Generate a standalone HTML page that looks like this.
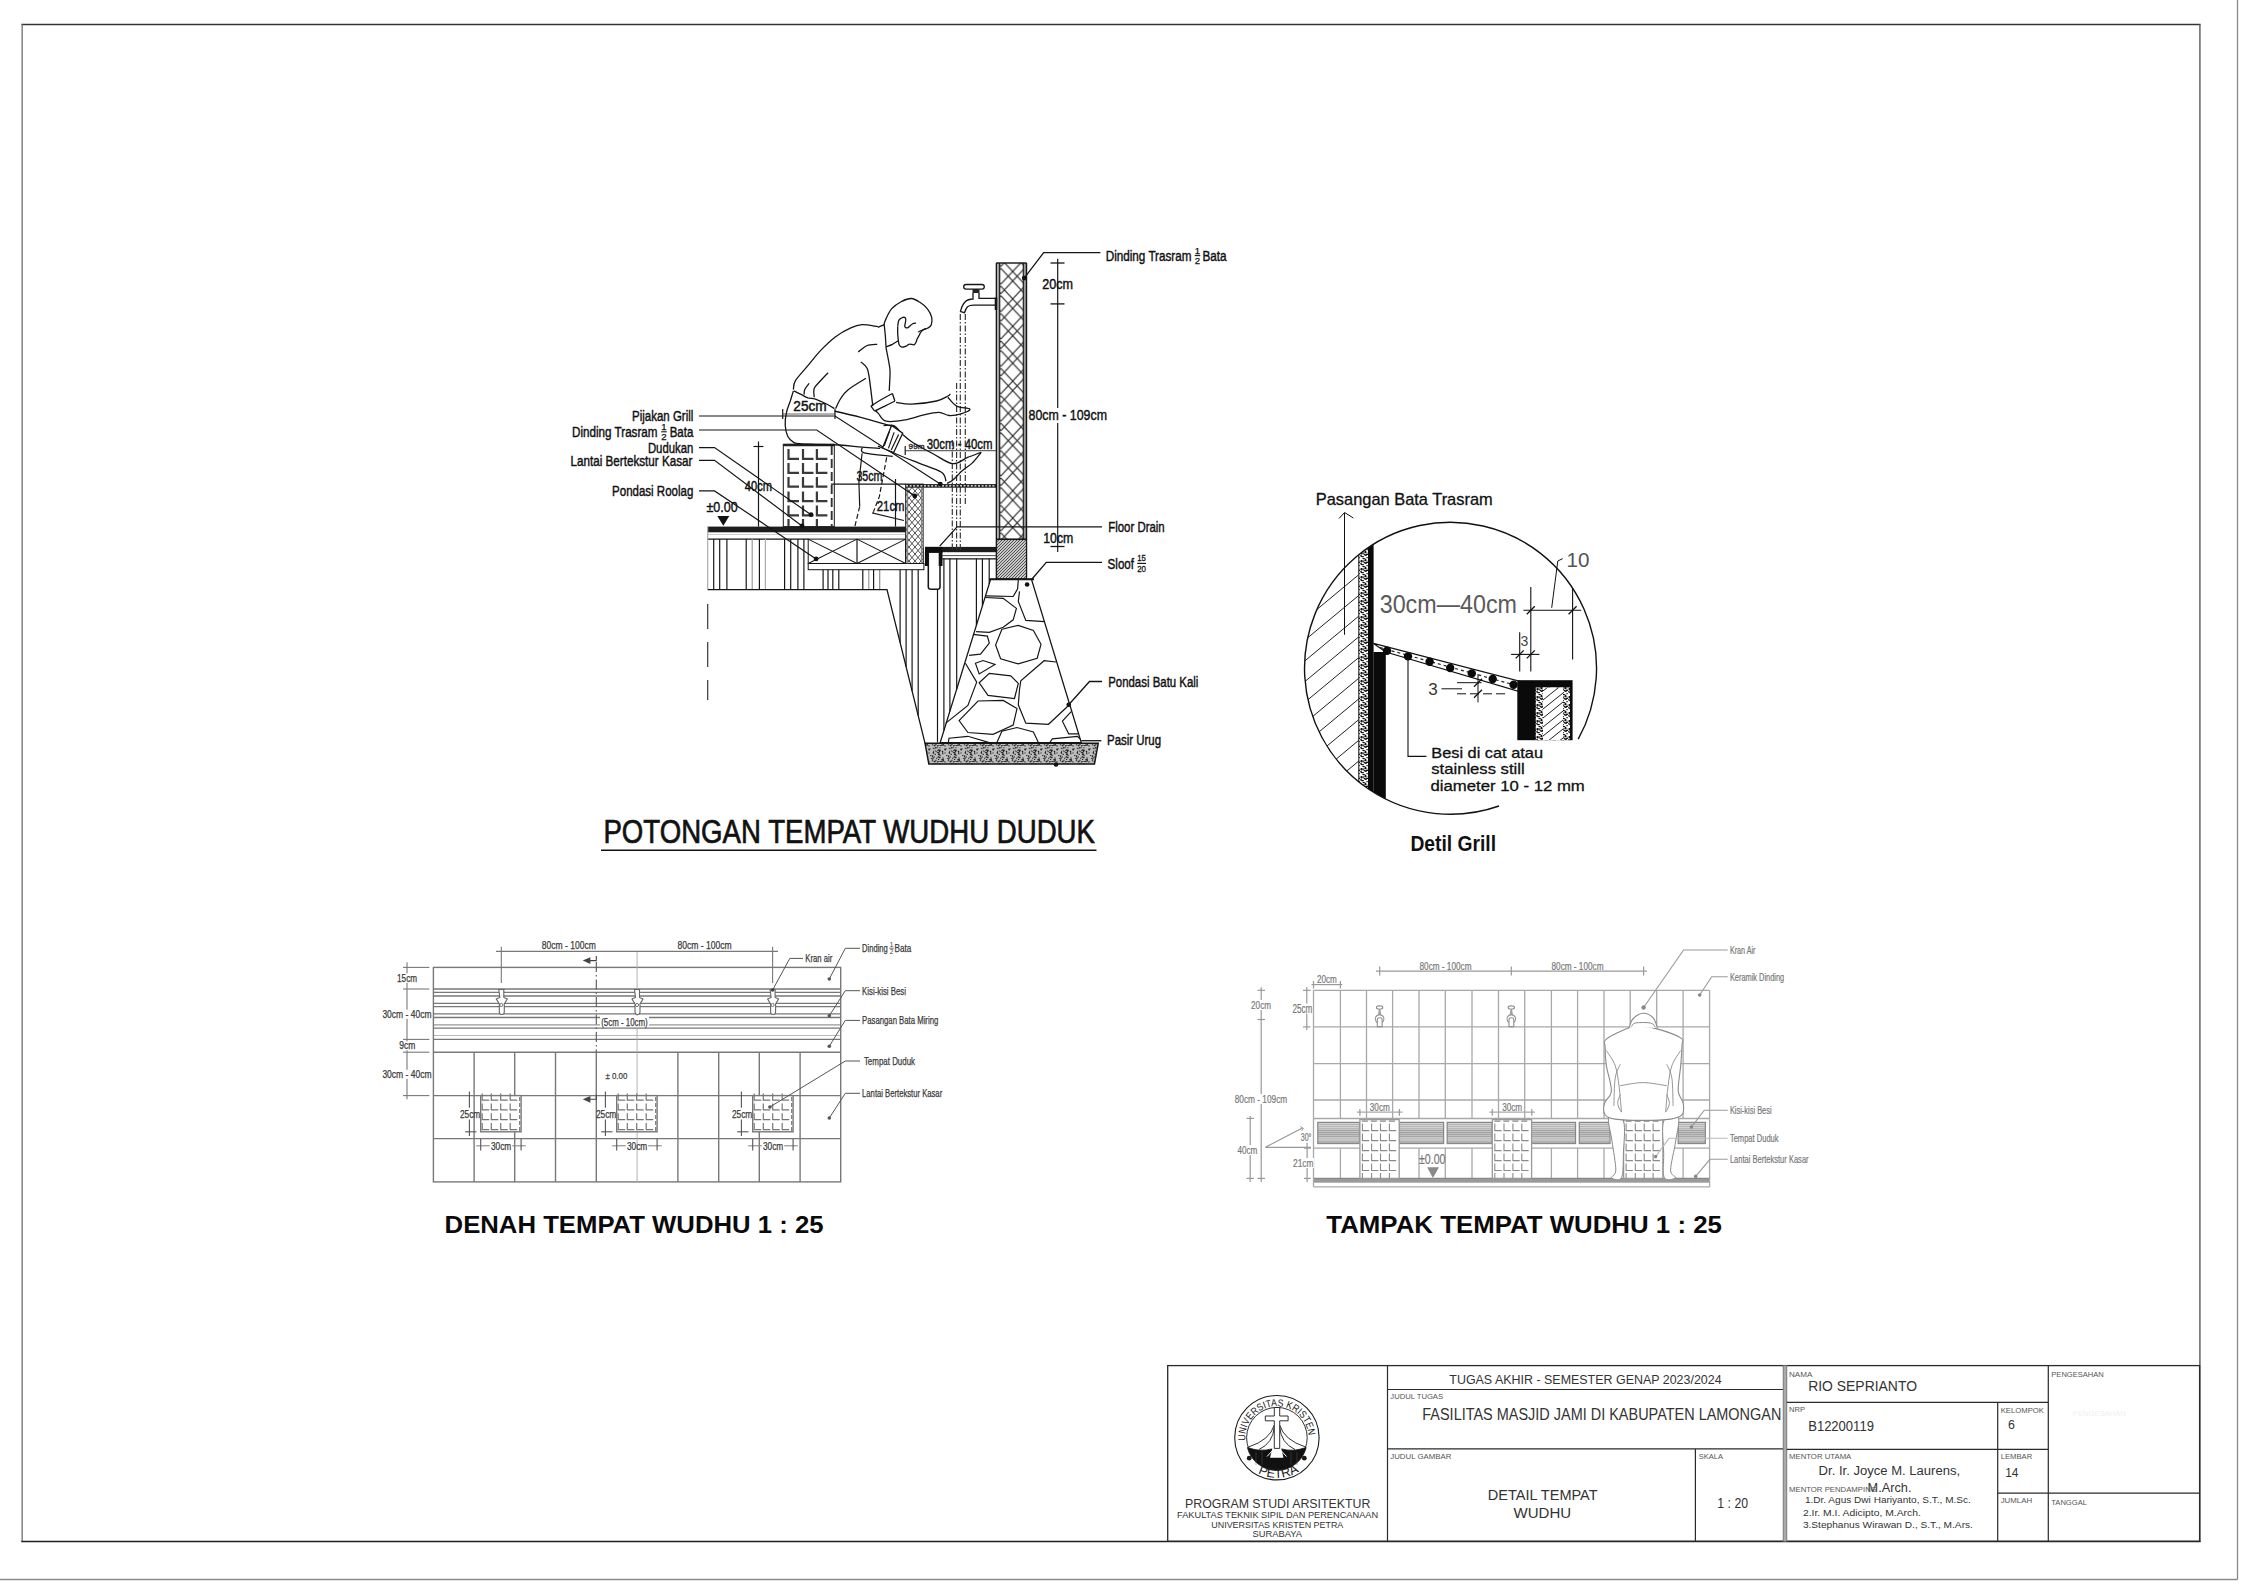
<!DOCTYPE html>
<html><head><meta charset="utf-8"><title>Detail Tempat Wudhu</title>
<style>
html,body{margin:0;padding:0;background:#fff;}
body{width:2245px;height:1587px;overflow:hidden;}
svg{display:block;font-family:"Liberation Sans",sans-serif;}
</style></head><body>
<svg width="2245" height="1587" viewBox="0 0 2245 1587">
<rect width="2245" height="1587" fill="#fff"/>
<defs>
<pattern id="xh" patternUnits="userSpaceOnUse" x="1000.7" y="244.1" width="24" height="27.4"><path d="M0,-40.24L24,-14.56M24,-40.24L0,-14.56M0,-12.84L24,12.84M24,-12.84L0,12.84M0,-3.34L24,22.34M24,-3.34L0,22.34M0,14.56L24,40.24M24,14.56L0,40.24M0,24.06L24,49.74M24,24.06L0,49.74" stroke="#2a2a2a" stroke-width="1.15" fill="none"/></pattern>
<pattern id="xh2" patternUnits="userSpaceOnUse" x="909" y="484" width="12" height="14"><path d="M0,0L12,14M0,-7L12,7M0,7L12,21M12,0L0,14M12,-7L0,7M12,7L0,21" stroke="#222" stroke-width="0.8" fill="none"/></pattern>
<pattern id="dh" patternUnits="userSpaceOnUse" width="3" height="3"><rect width="3" height="3" fill="#c8c8c8"/><path d="M-1,4L4,-1M-1,1L1,-1M2,4L4,2" stroke="#333" stroke-width="0.8"/></pattern>
<pattern id="st" patternUnits="userSpaceOnUse" width="16" height="16"><rect width="16" height="16" fill="#bdbdbd"/><path d="M3.8,8.7h1.2M5.9,9.7h1.2M10.0,1.0h1.2M0.2,13.4h1.2M4.1,3.7h1.2M15.9,7.5h1.2M13.4,7.6h1.2M10.2,2.4h1.2M10.2,13.9h1.2M8.4,11.9h1.2M10.7,1.0h1.2M12.1,9.5h1.2M4.8,0.5h1.2M13.8,7.6h1.2M11.5,14.1h1.2M11.4,14.7h1.2M6.3,12.8h1.2M7.1,15.0h1.2M14.1,1.6h1.2M2.2,3.5h1.2M15.4,7.0h1.2M10.0,4.8h1.2M8.1,6.2h1.2M5.6,9.4h1.2M9.3,14.5h1.2M10.9,14.9h1.2M13.7,15.9h1.2M10.7,2.6h1.2M13.8,15.4h1.2M14.5,9.1h1.2M11.4,3.4h1.2M13.3,9.2h1.2M4.6,1.0h1.2M13.7,15.8h1.2M1.4,12.8h1.2M6.6,2.4h1.2M4.7,12.3h1.2M14.0,0.7h1.2M9.8,0.7h1.2M11.5,5.3h1.2M14.1,15.7h1.2M8.1,16.0h1.2M5.0,1.2h1.2M9.6,0.5h1.2M3.2,6.5h1.2M9.8,2.5h1.2M0.7,13.9h1.2M5.0,15.3h1.2M14.3,6.0h1.2M7.4,8.3h1.2M10.3,9.5h1.2M8.9,9.9h1.2M15.0,8.1h1.2M6.9,11.5h1.2M3.8,4.8h1.2M15.6,8.3h1.2M8.8,0.2h1.2M6.6,9.3h1.2M0.3,9.9h1.2M10.1,1.0h1.2M10.0,7.5h1.2M10.9,5.6h1.2M11.3,11.8h1.2M0.4,1.0h1.2M10.8,15.4h1.2M4.0,7.3h1.2M9.5,5.1h1.2M5.8,5.0h1.2M5.9,9.5h1.2M4.8,6.0h1.2" stroke="#222" stroke-width="1.1"/></pattern>
<pattern id="gh" patternUnits="userSpaceOnUse" width="20" height="20" patternTransform="rotate(-40)"><path d="M0,10H20" stroke="#222" stroke-width="1"/></pattern>
<pattern id="gs" patternUnits="userSpaceOnUse" width="8" height="8"><rect width="8" height="8" fill="#fff"/><path d="M2.6,1.2h1.3M5.2,0.6h1.3M4.3,2.9h1.3M0.5,4.1h1.3M0.3,3.5h1.3M0.6,0.7h1.3M3.4,6.6h1.3M1.0,1.8h1.3M5.0,7.6h1.3M4.6,3.2h1.3M7.8,0.4h1.3M6.9,2.3h1.3M1.2,0.9h1.3M2.5,6.5h1.3M1.4,4.7h1.3M5.1,3.0h1.3M4.4,0.5h1.3M0.5,1.6h1.3M5.4,3.4h1.3M2.5,4.7h1.3M3.6,2.4h1.3M6.4,5.6h1.3M2.0,4.6h1.3M4.2,7.0h1.3M5.8,2.3h1.3M7.8,0.9h1.3" stroke="#111" stroke-width="1.2"/></pattern>
</defs>
<line x1="2237.5" y1="0" x2="2237.5" y2="1579.5" stroke="#8a8a8a" stroke-width="1.3"/>
<line x1="0" y1="1579.5" x2="2237.5" y2="1579.5" stroke="#8a8a8a" stroke-width="1.3"/>
<line x1="21.3" y1="24.5" x2="2200.6" y2="24.5" stroke="#333" stroke-width="1.3"/>
<line x1="22.2" y1="24.5" x2="22.2" y2="1541.5" stroke="#8a8a8a" stroke-width="1.6"/>
<line x1="2199.9" y1="24.5" x2="2199.9" y2="1541.5" stroke="#6e6e6e" stroke-width="1.6"/>
<line x1="21.3" y1="1541.4" x2="2200.6" y2="1541.4" stroke="#1e1e1e" stroke-width="1.5"/>
<rect x="707.7" y="526.6" width="198" height="5.7" fill="#1d1d1d" stroke="#151515" stroke-width="0"/>
<line x1="707.7" y1="534.5" x2="905.7" y2="534.5" stroke="#bbb" stroke-width="0.71"/>
<line x1="707.7" y1="539.1" x2="808.2" y2="539.1" stroke="#151515" stroke-width="1.18"/>
<line x1="707.7" y1="526.6" x2="707.7" y2="589.6" stroke="#aaa" stroke-width="1.18"/>
<line x1="713.7" y1="539.1" x2="713.7" y2="589.6" stroke="#151515" stroke-width="1.18"/>
<line x1="719.7" y1="539.1" x2="719.7" y2="589.6" stroke="#151515" stroke-width="1.18"/>
<line x1="726.9" y1="539.1" x2="726.9" y2="589.6" stroke="#151515" stroke-width="1.18"/>
<line x1="746.2" y1="539.1" x2="746.2" y2="589.6" stroke="#151515" stroke-width="1.18"/>
<line x1="752.2" y1="539.1" x2="752.2" y2="589.6" stroke="#999" stroke-width="1.18"/>
<line x1="759.4" y1="539.1" x2="759.4" y2="589.6" stroke="#151515" stroke-width="1.18"/>
<line x1="765.4" y1="539.1" x2="765.4" y2="589.6" stroke="#aaa" stroke-width="1.18"/>
<line x1="784.6" y1="539.1" x2="784.6" y2="589.6" stroke="#151515" stroke-width="1.18"/>
<line x1="790.7" y1="539.1" x2="790.7" y2="589.6" stroke="#151515" stroke-width="1.18"/>
<line x1="797.9" y1="539.1" x2="797.9" y2="589.6" stroke="#151515" stroke-width="1.18"/>
<line x1="803.9" y1="539.1" x2="803.9" y2="589.6" stroke="#151515" stroke-width="1.18"/>
<line x1="823.1" y1="569.7" x2="823.1" y2="589.6" stroke="#151515" stroke-width="1.18"/>
<line x1="828" y1="569.7" x2="828" y2="589.6" stroke="#151515" stroke-width="1.18"/>
<line x1="832.8" y1="569.7" x2="832.8" y2="589.6" stroke="#151515" stroke-width="1.18"/>
<line x1="838.8" y1="569.7" x2="838.8" y2="589.6" stroke="#151515" stroke-width="1.18"/>
<line x1="862.8" y1="569.7" x2="862.8" y2="589.6" stroke="#151515" stroke-width="1.18"/>
<line x1="868.8" y1="569.7" x2="868.8" y2="589.6" stroke="#999" stroke-width="1.18"/>
<line x1="873.6" y1="569.7" x2="873.6" y2="589.6" stroke="#151515" stroke-width="1.18"/>
<line x1="879.7" y1="569.7" x2="879.7" y2="589.6" stroke="#888" stroke-width="1.18"/>
<polyline points="707.7,589.6 887,589.6 925,743.2" fill="none" stroke="#151515" stroke-width="1.3"/>
<line x1="707.7" y1="604" x2="707.7" y2="700" stroke="#333" stroke-width="1.18" stroke-dasharray="25,13"/>
<line x1="900.1" y1="569.7" x2="900.1" y2="642.6" stroke="#151515" stroke-width="1.18"/>
<line x1="906.1" y1="569.7" x2="906.1" y2="666.8" stroke="#151515" stroke-width="1.18"/>
<line x1="912.1" y1="569.7" x2="912.1" y2="691.1" stroke="#151515" stroke-width="1.18"/>
<line x1="918.2" y1="569.7" x2="918.2" y2="715.7" stroke="#151515" stroke-width="1.18"/>
<line x1="937.5" y1="589.2" x2="937.5" y2="742.6" stroke="#151515" stroke-width="1.18"/>
<line x1="943.9" y1="558.5" x2="943.9" y2="730.6" stroke="#151515" stroke-width="1.18"/>
<line x1="949.9" y1="558.5" x2="949.9" y2="711.2" stroke="#151515" stroke-width="1.18"/>
<line x1="956.7" y1="558.5" x2="956.7" y2="689.2" stroke="#151515" stroke-width="1.18"/>
<line x1="976.4" y1="558.5" x2="976.4" y2="625.4" stroke="#151515" stroke-width="1.18"/>
<line x1="982.4" y1="558.5" x2="982.4" y2="606" stroke="#151515" stroke-width="1.18"/>
<line x1="989.2" y1="558.5" x2="989.2" y2="583.9" stroke="#151515" stroke-width="1.18"/>
<rect x="808.2" y="539.1" width="97.5" height="24.4" fill="none" stroke="#151515" stroke-width="1.0"/>
<line x1="857" y1="539.1" x2="857" y2="563.5" stroke="#151515" stroke-width="1.18"/>
<line x1="808.2" y1="539.1" x2="857" y2="563.5" stroke="#151515" stroke-width="1.06"/>
<line x1="808.2" y1="563.5" x2="857" y2="539.1" stroke="#151515" stroke-width="1.06"/>
<line x1="857" y1="539.1" x2="905.7" y2="563.5" stroke="#151515" stroke-width="1.06"/>
<line x1="857" y1="563.5" x2="905.7" y2="539.1" stroke="#151515" stroke-width="1.06"/>
<rect x="808.2" y="563.5" width="115.7" height="6.2" fill="none" stroke="#151515" stroke-width="1.0"/>
<rect x="905.7" y="484.1" width="17.6" height="79.4" fill="url(#xh2)" stroke="#151515" stroke-width="1.0"/>
<line x1="907.4" y1="487.5" x2="907.4" y2="563.5" stroke="#888" stroke-width="1.53"/>
<line x1="921.6" y1="487.5" x2="921.6" y2="563.5" stroke="#888" stroke-width="1.53"/>
<rect x="905.7" y="484.1" width="90.4" height="3.6" fill="#1b1b1b" stroke="#151515" stroke-width="0"/>
<line x1="906" y1="485.9" x2="996" y2="485.9" stroke="#fff" stroke-width="1.18" stroke-dasharray="2,1.6"/>
<rect x="923.3" y="487.7" width="0.1" height="59" fill="none" stroke="#777" stroke-width="0.9"/>
<rect x="925" y="546.9" width="71.4" height="5.3" fill="#1d1d1d" stroke="#151515" stroke-width="0"/>
<line x1="942.3" y1="555.6" x2="996.4" y2="555.6" stroke="#444" stroke-width="0.94"/>
<line x1="942.3" y1="558.8" x2="996.4" y2="558.8" stroke="#151515" stroke-width="1.18"/>
<rect x="925" y="546.9" width="17.3" height="6" fill="#0d0d0d" stroke="#151515" stroke-width="0"/>
<path d="M926.8,552 V566 M940.6,552 V566" fill="none" stroke="#0d0d0d" stroke-width="3.78"/>
<path d="M928.3,552 V587 Q928.3,589.3 931,589.3 H937.5 Q940,589.3 940,587 V552" fill="none" stroke="#151515" stroke-width="1.53"/>
<rect x="996.1" y="263" width="30.5" height="276.3" fill="#fff" stroke="#151515" stroke-width="0"/>
<rect x="999.5" y="263" width="24" height="276.3" fill="url(#xh)" stroke="#151515" stroke-width="0"/>
<line x1="996.4" y1="263" x2="996.4" y2="579" stroke="#151515" stroke-width="1.42"/>
<line x1="998.3" y1="263" x2="998.3" y2="539.3" stroke="#999" stroke-width="1.89"/>
<line x1="999.7" y1="263" x2="999.7" y2="539.3" stroke="#151515" stroke-width="1.18"/>
<line x1="1023.3" y1="263" x2="1023.3" y2="539.3" stroke="#151515" stroke-width="1.18"/>
<line x1="1025" y1="263" x2="1025" y2="539.3" stroke="#999" stroke-width="1.89"/>
<line x1="1026.5" y1="263" x2="1026.5" y2="579" stroke="#151515" stroke-width="1.42"/>
<line x1="996.1" y1="263" x2="1026.6" y2="263" stroke="#151515" stroke-width="1.42"/>
<rect x="996.6" y="539.3" width="29.8" height="39.7" fill="url(#dh)" stroke="#151515" stroke-width="1.0"/>
<line x1="996.4" y1="539.3" x2="1026.6" y2="539.3" stroke="#151515" stroke-width="1.53"/>
<polygon points="990.6,579.4 1031.5,579.4 1081.3,742.6 940.2,742.6" fill="none" stroke="#151515" stroke-width="1.3"/>
<line x1="989" y1="579.2" x2="1034" y2="579.2" stroke="#151515" stroke-width="1.89"/>
<polyline points="985.5,595.8 1013.2,596.5 1017.6,588.9 1018.3,580.1" fill="none" stroke="#151515" stroke-width="1.18"/>
<polyline points="1019.5,591.4 1018.3,601.5 1025.8,620.4 1044.7,621.7" fill="none" stroke="#151515" stroke-width="1.18"/>
<polyline points="965.4,663.2 976.7,682.1 967.9,705.4 945.8,723.1" fill="none" stroke="#151515" stroke-width="1.18"/>
<polyline points="1056.1,662 1044.1,660.7 1020.8,680.9 1019.5,689.7 1018.3,704.8 1025.8,723.1 1048.5,724.3 1069.9,704.2" fill="none" stroke="#151515" stroke-width="1.18"/>
<polyline points="996.9,742.6 1001.9,731.3 1017,727.5 1033.4,731.9 1038.4,742.6" fill="none" stroke="#151515" stroke-width="1.18"/>
<polyline points="948.3,742.6 949,738.2 967.9,736.3 989.3,742.6" fill="none" stroke="#151515" stroke-width="1.18"/>
<polyline points="1049.8,742.6 1052.3,738.8 1077.5,736.3 1080,738.8" fill="none" stroke="#151515" stroke-width="1.18"/>
<polyline points="1071.2,711.7 1062.4,721.2 1068.7,733.8 1078.1,733.8" fill="none" stroke="#151515" stroke-width="1.18"/>
<polyline points="985.5,597.5 1003.2,598.3 1016.4,608.4 1013.2,619.8 1003.2,627.3 989.3,632.4 976.1,631.7" fill="none" stroke="#151515" stroke-width="1.18"/>
<polyline points="972.9,634.3 987.4,636.1 989.3,643.1 980.5,654.2 969.1,655.4" fill="none" stroke="#151515" stroke-width="1.18"/>
<polygon points="1001.9,629.2 1018.3,625.4 1033.4,630.5 1041,644.3 1037.2,658.2 1018.3,663.9 1000.6,658.8 995.6,645" fill="none" stroke="#151515" stroke-width="1.18"/>
<polygon points="975.4,663.2 983,660.5 995,664.5 979.2,673.9" fill="none" stroke="#151515" stroke-width="1.18"/>
<polygon points="979.2,682.8 989.3,673.3 1010.7,675.8 1018.3,683.4 1014.5,698.5 988,695.4" fill="none" stroke="#151515" stroke-width="1.18"/>
<polygon points="959.1,720.6 978,701 1003.2,700.4 1017,708.6 1013.2,725 993.1,734.4 967.9,732.5" fill="none" stroke="#151515" stroke-width="1.18"/>
<polygon points="925,743.2 1098.3,743.2 1094.5,764 928.8,764" fill="url(#st)" stroke="#151515" stroke-width="1.42"/>
<circle cx="1056" cy="764.5" r="2.3" fill="#111"/>
<circle cx="1027.1" cy="584.5" r="2.3" fill="#111"/>
<circle cx="1068.7" cy="704.8" r="2.3" fill="#111"/>
<rect x="783.3" y="444.4" width="51" height="82.2" fill="#fff" stroke="#151515" stroke-width="1.0"/>
<line x1="831.7" y1="446" x2="831.7" y2="526" stroke="#333" stroke-width="1.89" stroke-dasharray="9,4"/>
<line x1="783.3" y1="445" x2="834.3" y2="445" stroke="#222" stroke-width="2.6"/>
<path d="M788.5,449.1V458.9H799" fill="none" stroke="#3a3a3a" stroke-width="2.24"/>
<path d="M803,449.1V458.9H813.5" fill="none" stroke="#3a3a3a" stroke-width="2.24"/>
<path d="M816.9,449.1V458.9H827.4" fill="none" stroke="#3a3a3a" stroke-width="2.24"/>
<path d="M788.5,463V472.8H799" fill="none" stroke="#3a3a3a" stroke-width="2.24"/>
<path d="M803,463V472.8H813.5" fill="none" stroke="#3a3a3a" stroke-width="2.24"/>
<path d="M816.9,463V472.8H827.4" fill="none" stroke="#3a3a3a" stroke-width="2.24"/>
<path d="M788.5,476.9V486.7H799" fill="none" stroke="#3a3a3a" stroke-width="2.24"/>
<path d="M803,476.9V486.7H813.5" fill="none" stroke="#3a3a3a" stroke-width="2.24"/>
<path d="M816.9,476.9V486.7H827.4" fill="none" stroke="#3a3a3a" stroke-width="2.24"/>
<path d="M788.5,491.4V501.2H799" fill="none" stroke="#3a3a3a" stroke-width="2.24"/>
<path d="M803,491.4V501.2H813.5" fill="none" stroke="#3a3a3a" stroke-width="2.24"/>
<path d="M816.9,491.4V501.2H827.4" fill="none" stroke="#3a3a3a" stroke-width="2.24"/>
<path d="M788.5,505.5V515.3H799" fill="none" stroke="#3a3a3a" stroke-width="2.24"/>
<path d="M803,505.5V515.3H813.5" fill="none" stroke="#3a3a3a" stroke-width="2.24"/>
<path d="M816.9,505.5V515.3H827.4" fill="none" stroke="#3a3a3a" stroke-width="2.24"/>
<line x1="788.5" y1="519" x2="788.5" y2="526" stroke="#3a3a3a" stroke-width="2.24"/>
<line x1="803" y1="519" x2="803" y2="526" stroke="#3a3a3a" stroke-width="2.24"/>
<line x1="816.9" y1="519" x2="816.9" y2="526" stroke="#3a3a3a" stroke-width="2.24"/>
<polygon points="717.3,516 729.3,516 723.3,525.7" fill="#111"/>
<text x="706.5" y="512.3" font-size="15" fill="#111" textLength="31.2" lengthAdjust="spacingAndGlyphs" stroke="#111" stroke-width="0.45">±0.00</text>
<line x1="758.5" y1="441.5" x2="758.5" y2="526.6" stroke="#151515" stroke-width="1.18"/>
<line x1="753.5" y1="446.5" x2="763.5" y2="446.5" stroke="#151515" stroke-width="1.18"/>
<text x="744.8" y="491" font-size="14.5" fill="#111" textLength="27.2" lengthAdjust="spacingAndGlyphs" stroke="#111" stroke-width="0.45">40cm</text>
<line x1="782.7" y1="414" x2="835" y2="414" stroke="#666" stroke-width="1.18"/>
<line x1="782.7" y1="409" x2="782.7" y2="419" stroke="#151515" stroke-width="1.18"/>
<line x1="835" y1="409" x2="835" y2="419" stroke="#151515" stroke-width="1.18"/>
<text x="793.3" y="411" font-size="14.5" fill="#111" textLength="33.4" lengthAdjust="spacingAndGlyphs" stroke="#111" stroke-width="0.45">25cm</text>
<line x1="830.9" y1="484.1" x2="905.7" y2="484.1" stroke="#151515" stroke-width="1.18"/>
<text x="856.4" y="481" font-size="14.5" fill="#111" textLength="26.1" lengthAdjust="spacingAndGlyphs" stroke="#111" stroke-width="0.45">35cm</text>
<line x1="895.5" y1="479" x2="895.5" y2="526.6" stroke="#151515" stroke-width="1.18"/>
<text x="876.8" y="511.1" font-size="14.5" fill="#111" textLength="27.8" lengthAdjust="spacingAndGlyphs" stroke="#111" stroke-width="0.45">21cm</text>
<line x1="905.2" y1="450.6" x2="996" y2="450.6" stroke="#666" stroke-width="1.18"/>
<line x1="905.2" y1="446" x2="905.2" y2="455" stroke="#151515" stroke-width="1.18"/>
<text x="926.7" y="449.3" font-size="14.5" fill="#111" textLength="65.8" lengthAdjust="spacingAndGlyphs" stroke="#111" stroke-width="0.45">30cm - 40cm</text>
<text x="908.6" y="448.6" font-size="8.1" fill="#333" textLength="15.9" lengthAdjust="spacingAndGlyphs" stroke="#333" stroke-width="0.45">99m</text>
<line x1="1057.7" y1="258.7" x2="1057.7" y2="552" stroke="#151515" stroke-width="1.18"/>
<line x1="1050.5" y1="263" x2="1064.5" y2="263" stroke="#151515" stroke-width="1.3"/>
<line x1="1050.5" y1="303.9" x2="1064.5" y2="303.9" stroke="#151515" stroke-width="1.3"/>
<line x1="1050.5" y1="546.5" x2="1064.5" y2="546.5" stroke="#151515" stroke-width="1.3"/>
<text x="1042.2" y="289.4" font-size="15.1" fill="#111" textLength="30.8" lengthAdjust="spacingAndGlyphs" stroke="#111" stroke-width="0.45">20cm</text>
<rect x="1029" y="408" width="78" height="15" fill="#fff"/>
<text x="1028.5" y="420.3" font-size="15.3" fill="#111" textLength="78.5" lengthAdjust="spacingAndGlyphs" stroke="#111" stroke-width="0.45">80cm - 109cm</text>
<text x="1043.2" y="543" font-size="15" fill="#111" textLength="30.1" lengthAdjust="spacingAndGlyphs" stroke="#111" stroke-width="0.45">10cm</text>
<path d="M966,284.5 h16 a2.3,2.3 0 0 1 0,4.6 h-16 a2.3,2.3 0 0 1 0,-4.6z" fill="none" stroke="#151515" stroke-width="1.3"/>
<rect x="972.5" y="289" width="7" height="4" fill="#222" stroke="#151515" stroke-width="0"/>
<path d="M973,293 v6 q-5,0 -8,3 q-3,3 -4.5,9.5 l4,1.2 q1.5,-4.5 3,-6 q2,-1.5 6,-1.5 h22.5 v-6.8 h-17 v-5.4" fill="none" stroke="#151515" stroke-width="1.3"/>
<line x1="996" y1="297.5" x2="996" y2="310" stroke="#151515" stroke-width="2.6"/>
<line x1="960.3" y1="314" x2="960.3" y2="550" stroke="#333" stroke-width="1.18" stroke-dasharray="6,2,1.5,2"/>
<line x1="965.3" y1="314" x2="965.3" y2="505" stroke="#333" stroke-width="1.18" stroke-dasharray="6,2,1.5,2"/>
<line x1="956.6" y1="383" x2="956.6" y2="550" stroke="#333" stroke-width="1.18" stroke-dasharray="6,2,1.5,2"/>
<line x1="952.3" y1="440" x2="952.3" y2="550" stroke="#333" stroke-width="1.18" stroke-dasharray="6,2,1.5,2"/>
<polyline points="699,416 835,416 940.3,484.1" fill="none" stroke="#151515" stroke-width="1.18"/>
<circle cx="940.3" cy="484.1" r="2.4" fill="#111"/>
<polyline points="699,430 816.7,430 914.8,496" fill="none" stroke="#151515" stroke-width="1.18"/>
<circle cx="914.8" cy="496" r="2.4" fill="#111"/>
<polyline points="699,447.6 714.5,447.6 811,514.7" fill="none" stroke="#151515" stroke-width="1.18"/>
<circle cx="811" cy="514.7" r="2.4" fill="#111"/>
<polyline points="699,460.3 714.5,460.3 802,526" fill="none" stroke="#151515" stroke-width="1.18"/>
<circle cx="802" cy="526" r="2.4" fill="#111"/>
<polyline points="699,490.9 714.5,490.9 816.1,558.9" fill="none" stroke="#151515" stroke-width="1.18"/>
<circle cx="816.1" cy="558.9" r="2.4" fill="#111"/>
<text x="632.1" y="421" font-size="15.1" fill="#111" textLength="61.2" lengthAdjust="spacingAndGlyphs" stroke="#111" stroke-width="0.45">Pijakan Grill</text>
<text x="572.1" y="436.7" font-size="15.1" fill="#111" textLength="85.4" lengthAdjust="spacingAndGlyphs" stroke="#111" stroke-width="0.45">Dinding Trasram</text>
<text x="669.7" y="436.7" font-size="15.1" fill="#111" textLength="23.6" lengthAdjust="spacingAndGlyphs" stroke="#111" stroke-width="0.45">Bata</text>
<text x="664" y="430.2" font-size="9.6" fill="#111" stroke="#111" stroke-width="0.25" text-anchor="middle">1</text>
<line x1="661.2" y1="431.8" x2="666.8" y2="431.8" stroke="#111" stroke-width="1.06"/>
<text x="664" y="439.8" font-size="9.6" fill="#111" stroke="#111" stroke-width="0.25" text-anchor="middle">2</text>
<text x="647.9" y="452.8" font-size="15.1" fill="#111" textLength="45.4" lengthAdjust="spacingAndGlyphs" stroke="#111" stroke-width="0.45">Dudukan</text>
<text x="570.6" y="465.5" font-size="15.1" fill="#111" textLength="121.8" lengthAdjust="spacingAndGlyphs" stroke="#111" stroke-width="0.45">Lantai Bertekstur Kasar</text>
<text x="612.1" y="496.1" font-size="15.1" fill="#111" textLength="81.2" lengthAdjust="spacingAndGlyphs" stroke="#111" stroke-width="0.45">Pondasi Roolag</text>
<polyline points="1024.2,278.1 1043.6,252.7 1100.4,252.7" fill="none" stroke="#151515" stroke-width="1.3"/>
<circle cx="1024.2" cy="278.1" r="2.4" fill="#111"/>
<text x="1105.7" y="260.7" font-size="15.3" fill="#111" textLength="85.8" lengthAdjust="spacingAndGlyphs" stroke="#111" stroke-width="0.45">Dinding Trasram</text>
<text x="1202.5" y="260.7" font-size="15.3" fill="#111" textLength="24.1" lengthAdjust="spacingAndGlyphs" stroke="#111" stroke-width="0.45">Bata</text>
<text x="1197.5" y="254" font-size="9.6" fill="#111" stroke="#111" stroke-width="0.25" text-anchor="middle">1</text>
<line x1="1194.7" y1="255.6" x2="1200.3" y2="255.6" stroke="#111" stroke-width="1.06"/>
<text x="1197.5" y="263.6" font-size="9.6" fill="#111" stroke="#111" stroke-width="0.25" text-anchor="middle">2</text>
<polyline points="939.7,546.1 957.1,526.8 1102,526.8" fill="none" stroke="#151515" stroke-width="1.3"/>
<text x="1108.2" y="532.2" font-size="15.1" fill="#111" textLength="56.5" lengthAdjust="spacingAndGlyphs" stroke="#111" stroke-width="0.45">Floor Drain</text>
<polyline points="1032,579 1046.3,562.4 1102,562.4" fill="none" stroke="#151515" stroke-width="1.3"/>
<text x="1107.6" y="569.2" font-size="15.4" fill="#111" textLength="26.4" lengthAdjust="spacingAndGlyphs" stroke="#111" stroke-width="0.45">Sloof</text>
<text x="1137.2" y="561.4" font-size="8.8" fill="#111" stroke="#111" stroke-width="0.3" textLength="8.6" lengthAdjust="spacingAndGlyphs">15</text>
<line x1="1137.2" y1="563.4" x2="1146" y2="563.4" stroke="#151515" stroke-width="1.18"/>
<text x="1137.2" y="571.6" font-size="8.8" fill="#111" stroke="#111" stroke-width="0.3" textLength="8.8" lengthAdjust="spacingAndGlyphs">20</text>
<polyline points="1068.7,704.8 1089.5,681.5 1102,681.5" fill="none" stroke="#151515" stroke-width="1.3"/>
<text x="1108.2" y="687.2" font-size="15.1" fill="#111" textLength="90.2" lengthAdjust="spacingAndGlyphs" stroke="#111" stroke-width="0.45">Pondasi Batu Kali</text>
<line x1="1081.3" y1="740.7" x2="1101.4" y2="740.7" stroke="#151515" stroke-width="1.3"/>
<text x="1107" y="744.5" font-size="15.1" fill="#111" textLength="54.1" lengthAdjust="spacingAndGlyphs" stroke="#111" stroke-width="0.45">Pasir Urug</text>
<path d="M884,325 C884.2,324.2 884.1,322.9 885.4,320.2 C886.6,317.6 888.8,312.1 891.5,308.9 C894.3,305.8 898.6,303.1 901.9,301.3 C905.2,299.6 908.4,298.3 911.4,298.5 C914.4,298.7 917.2,300.6 919.9,302.3 C922.6,304 925.5,306.4 927.4,308.9 C929.4,311.4 931.1,314.7 931.7,317.4 C932.3,320.1 931.9,323.2 931.2,325 C930.5,326.8 928.7,327.5 927.4,328.3 C926.2,329.1 924.8,329.1 923.7,329.7 C922.6,330.3 921.6,331 920.8,332.1 C920,333.1 919.6,334.7 918.9,335.8 C918.3,337 917.5,338.1 917.1,339.1 C916.6,340.2 916.6,341 916.1,342 C915.6,342.9 915.3,344.5 914.2,344.8 C913.1,345.2 910.7,343.9 909.5,344.1 C908.2,344.2 907.9,345.2 906.7,345.8 C905.4,346.3 903.2,347.3 901.9,347.2 C900.7,347.1 899.9,346.2 899.3,345 C898.7,343.8 898.6,342 898.3,340.1 C898.1,338.2 897.8,335.8 897.7,333.5 C897.6,331.2 897.7,327.6 897.7,326.4" fill="none" stroke="#151515" stroke-width="1.3"/>
<path d="M897.7,326.4 C897.9,325.4 898,321.7 898.9,320.2 C899.8,318.7 901.7,317.7 902.9,317.4 C904,317.1 905.3,317.4 905.7,318.4 C906.1,319.3 905.5,321.7 905.3,323.1 C905.2,324.4 904.4,325.6 904.8,326.4 C905.1,327.2 906.3,328.2 907.6,327.8 C908.9,327.4 910.9,324.8 912.3,324 C913.7,323.2 915.5,323.2 916.1,323.1" fill="none" stroke="#151515" stroke-width="1.3"/>
<path d="M918,332.1 C918.6,331.7 920.4,330.8 921.8,330.2 C923.1,329.5 925.3,328.6 926,328.3" fill="none" stroke="#151515" stroke-width="1.06"/>
<path d="M877.9,327.3 C878.9,326.9 883.1,325.2 884.2,324.7" fill="none" stroke="#151515" stroke-width="1.3"/>
<path d="M884.2,324.7 C884.4,326.7 885.1,332.8 885.4,336.7 C885.7,340.6 886,346.2 886.1,348.1" fill="none" stroke="#151515" stroke-width="1.3"/>
<path d="M898.7,340.5 C897.6,341.1 894.5,343.2 892.4,344.3 C890.3,345.3 887.1,346.4 886.1,346.8" fill="none" stroke="#151515" stroke-width="1.3"/>
<path d="M877.9,326.6 C875.2,326.3 866.6,324.5 862.1,324.7 C857.6,325 855.2,325.9 850.8,327.9 C846.3,329.9 840.7,332.9 835.6,336.7 C830.6,340.5 825.1,345.8 820.5,350.6 C815.9,355.4 812.1,360.7 807.9,365.7 C803.7,370.8 797.7,376.9 795.3,380.8 C792.9,384.8 793.7,388.2 793.4,389.7" fill="none" stroke="#151515" stroke-width="1.3"/>
<path d="M794,390.9 C795.3,391.6 799.3,393.6 801.6,394.7 C803.9,395.9 805.6,397.1 807.9,397.9 C810.2,398.6 812.5,398.2 815.5,399.1 C818.4,400.1 822.4,402 825.5,403.5 C828.7,405.1 832.9,407.7 834.4,408.6" fill="none" stroke="#151515" stroke-width="1.3"/>
<path d="M793.4,390.9 C792.9,392.6 791.4,397.4 790.3,401 C789.1,404.6 787.3,408.4 786.5,412.4 C785.6,416.4 785,421 785.2,425 C785.4,429 786.3,433.4 787.7,436.3 C789.2,439.3 791.7,441.4 794,442.6 C796.3,443.9 798.4,443.6 801.6,443.9 C804.7,444.2 811.1,444.4 812.9,444.5" fill="none" stroke="#151515" stroke-width="1.3"/>
<path d="M834.4,411.1 C838.8,412.1 851.2,414.9 860.8,417.4 C870.5,419.9 887.1,424.8 892.4,426.2" fill="none" stroke="#151515" stroke-width="1.3"/>
<path d="M886.1,348.1 C886.7,351.4 889.2,363 889.8,368.2 C890.5,373.5 889.9,375.8 889.8,379.6 C889.7,383.4 889.3,389 889.2,390.9" fill="none" stroke="#151515" stroke-width="1.3"/>
<path d="M860.8,361.9 C861.9,363 865.7,365.1 867.1,368.2 C868.6,371.4 868.7,374.5 869.7,380.8 C870.6,387.1 872.3,401.9 872.8,406.1" fill="none" stroke="#151515" stroke-width="1.3"/>
<path d="M870.9,406.1 C872.6,405 877.4,401.9 881,399.8 C884.6,397.7 890.5,394.5 892.4,393.5" fill="none" stroke="#151515" stroke-width="1.3"/>
<path d="M874.7,411.1 C876.4,410.3 881.4,407.7 884.8,406.1 C888.2,404.4 893.2,401.9 894.9,401" fill="none" stroke="#151515" stroke-width="1.3"/>
<polyline points="870.9,406.1 874.7,411.1" fill="none" stroke="#151515" stroke-width="1.3"/>
<polyline points="892.4,393.5 894.9,401" fill="none" stroke="#151515" stroke-width="1.3"/>
<path d="M896.1,402.3 C898.7,402.6 904.5,404.4 911.3,404.2 C918,404 930.4,402.4 936.5,401 C942.6,399.6 945.5,397.1 947.8,396 C950.1,394.8 949.9,394.4 950.3,394.1" fill="none" stroke="#151515" stroke-width="1.3"/>
<path d="M947.8,397.2 C949.3,398.7 953,404.1 956.6,406.1 C960.3,408.1 969,407.9 969.9,409.2 C970.7,410.5 965.2,412.6 961.7,413.6 C958.2,414.7 952.9,415.7 949.1,415.5 C945.3,415.3 943.2,412.5 939,412.4 C934.8,412.3 929.5,413.6 923.9,414.9 C918.2,416.1 911.3,418.9 905,419.9 C898.7,421 890.5,422.2 886.1,421.2 C881.6,420.1 880.3,415.4 878.5,413.6 C876.7,411.8 875.9,411 875.3,410.5" fill="none" stroke="#151515" stroke-width="1.3"/>
<path d="M858.3,351.9 C859.8,350.8 864,346.8 867.1,345.5 C870.3,344.3 875.6,344.5 877.2,344.3" fill="none" stroke="#151515" stroke-width="1.3"/>
<path d="M865.9,378.3 C862.9,380.2 852.4,386.3 848.2,389.7 C844,393 842.8,395.3 840.7,398.5 C838.6,401.6 836.5,406.9 835.6,408.6" fill="none" stroke="#151515" stroke-width="1.3"/>
<path d="M828.1,372.7 C826.8,374 822.8,378.2 820.5,380.8 C818.2,383.5 815.3,385.7 814.2,388.4 C813.2,391.1 814.2,395.8 814.2,397.2" fill="none" stroke="#151515" stroke-width="1.3"/>
<path d="M809.2,383.4 C808.4,384.4 805.6,387.8 804.7,389.7 C803.9,391.6 804.2,393.9 804.1,394.7" fill="none" stroke="#151515" stroke-width="1.3"/>
<path d="M883.6,425.7 C885.3,425.7 890.6,424.2 893.8,425.7 C897,427.2 899.7,431.9 902.9,434.7 C906.1,437.6 908,439.5 913.1,442.7 C918.2,445.9 926.9,450.5 933.5,454 C940.1,457.5 947.1,463.1 952.8,463.7 C958.5,464.2 962.8,459.3 967.6,457.4 C972.3,455.5 978.9,453.2 981.2,452.3" fill="none" stroke="#151515" stroke-width="1.3"/>
<path d="M981.2,452.3 C979.7,454.1 975.3,460 972.1,463.1 C968.9,466.2 965.1,468.2 961.9,471 C958.7,473.9 955.3,478 952.8,480.1 C950.4,482.2 948.1,482.9 947.1,483.5" fill="none" stroke="#151515" stroke-width="1.3"/>
<path d="M878,446.1 C881,447.4 889.3,451.2 896.1,454 C902.9,456.9 911.2,460.1 918.8,463.1 C926.3,466.1 936.9,469.1 941.5,472.2 C946,475.2 945.2,479.7 946,481.2" fill="none" stroke="#151515" stroke-width="1.3"/>
<polygon points="891.6,425.4 902.7,433.2 893.7,452.5 882.6,448" fill="#fff" stroke="#151515" stroke-width="1.3"/>
<polyline points="889.2,432 884.3,445.9" fill="none" stroke="#151515" stroke-width="1.18"/>
<polyline points="894.1,432.4 888.4,448.4" fill="none" stroke="#151515" stroke-width="1.18"/>
<polyline points="898.6,434.4 891.2,450" fill="none" stroke="#151515" stroke-width="1.18"/>
<path d="M805.4,444.4 C811,444.5 829.9,444.5 839.4,445 C848.8,445.4 855.3,446.7 862.1,447.2 C868.9,447.8 877.2,448.2 880.2,448.4" fill="none" stroke="#151515" stroke-width="1.3"/>
<path d="M862.1,447.8 C862.5,448.6 859.2,451.5 864.3,452.9 C869.4,454.3 888,455.7 892.7,456.3" fill="none" stroke="#151515" stroke-width="1.3"/>
<polyline points="862.1,453.3 858.9,482 859.7,506.6" fill="none" stroke="#151515" stroke-width="1.18"/>
<polyline points="859.7,506.6 853.9,530.3" fill="none" stroke="#151515" stroke-width="1.18" stroke-dasharray="5,2.5"/>
<polyline points="886.7,457.4 879.3,496.7 873.6,511.5" fill="none" stroke="#151515" stroke-width="1.18" stroke-dasharray="5,2.5"/>
<polyline points="873.6,511.5 872.8,513.1 903.9,520.5" fill="none" stroke="#151515" stroke-width="1.18"/>
<clipPath id="cc"><circle cx="1450.5" cy="668.3" r="146"/></clipPath>
<g clip-path="url(#cc)">
<line x1="1290" y1="486.9" x2="1358.8" y2="429.8" stroke="#222" stroke-width="1"/>
<line x1="1290" y1="507.6" x2="1358.8" y2="450.5" stroke="#222" stroke-width="1"/>
<line x1="1290" y1="528.3" x2="1358.8" y2="471.2" stroke="#222" stroke-width="1"/>
<line x1="1290" y1="549" x2="1358.8" y2="491.9" stroke="#222" stroke-width="1"/>
<line x1="1290" y1="569.7" x2="1358.8" y2="512.6" stroke="#222" stroke-width="1"/>
<line x1="1290" y1="590.4" x2="1358.8" y2="533.3" stroke="#222" stroke-width="1"/>
<line x1="1290" y1="611.1" x2="1358.8" y2="554" stroke="#222" stroke-width="1"/>
<line x1="1290" y1="631.8" x2="1358.8" y2="574.7" stroke="#222" stroke-width="1"/>
<line x1="1290" y1="652.5" x2="1358.8" y2="595.4" stroke="#222" stroke-width="1"/>
<line x1="1290" y1="673.2" x2="1358.8" y2="616.1" stroke="#222" stroke-width="1"/>
<line x1="1290" y1="693.9" x2="1358.8" y2="636.8" stroke="#222" stroke-width="1"/>
<line x1="1290" y1="714.6" x2="1358.8" y2="657.5" stroke="#222" stroke-width="1"/>
<line x1="1290" y1="735.3" x2="1358.8" y2="678.2" stroke="#222" stroke-width="1"/>
<line x1="1290" y1="756" x2="1358.8" y2="698.9" stroke="#222" stroke-width="1"/>
<line x1="1290" y1="776.7" x2="1358.8" y2="719.6" stroke="#222" stroke-width="1"/>
<line x1="1290" y1="797.4" x2="1358.8" y2="740.3" stroke="#222" stroke-width="1"/>
<line x1="1290" y1="818.1" x2="1358.8" y2="761" stroke="#222" stroke-width="1"/>
<line x1="1290" y1="838.8" x2="1358.8" y2="781.7" stroke="#222" stroke-width="1"/>
<line x1="1290" y1="859.5" x2="1358.8" y2="802.4" stroke="#222" stroke-width="1"/>
<line x1="1290" y1="880.2" x2="1358.8" y2="823.1" stroke="#222" stroke-width="1"/>
<line x1="1290" y1="900.9" x2="1358.8" y2="843.8" stroke="#222" stroke-width="1"/>
<line x1="1290" y1="921.6" x2="1358.8" y2="864.5" stroke="#222" stroke-width="1"/>
<rect x="1358.8" y="540" width="9.4" height="270" fill="url(#gs)" stroke="#111" stroke-width="0"/>
<line x1="1358.8" y1="540" x2="1358.8" y2="810" stroke="#111" stroke-width="1"/>
<rect x="1368" y="540" width="5.6" height="270" fill="#0a0a0a" stroke="#111" stroke-width="0"/>
<rect x="1373.5" y="652" width="12.3" height="160" fill="#0a0a0a" stroke="#111" stroke-width="0"/>
</g>
<path d="M1499,806 A146,146 0 1 1 1578.2,739.1" fill="none" stroke="#111" stroke-width="1.4"/>
<polygon points="1373.5,643.4 1530.8,684 1518.5,691.3 1385.8,652" fill="#fff" stroke="#111" stroke-width="1.2"/>
<line x1="1380" y1="647.6" x2="1524" y2="687.6" stroke="#222" stroke-width="1.2" stroke-dasharray="3,3"/>
<circle cx="1387" cy="650.8" r="4.2" fill="#0a0a0a"/>
<circle cx="1408" cy="656.4" r="4.2" fill="#0a0a0a"/>
<circle cx="1429.6" cy="661.8" r="4.2" fill="#0a0a0a"/>
<circle cx="1450.2" cy="668" r="4.2" fill="#0a0a0a"/>
<circle cx="1471.8" cy="673.4" r="4.2" fill="#0a0a0a"/>
<circle cx="1492.7" cy="679" r="4.2" fill="#0a0a0a"/>
<circle cx="1513.6" cy="684.7" r="4.2" fill="#0a0a0a"/>
<g clip-path="url(#cc)">
<rect x="1517.3" y="680.2" width="55.3" height="60" fill="#0a0a0a" stroke="#111" stroke-width="0"/>
<rect x="1535.7" y="687.5" width="34.3" height="52.7" fill="url(#gs)" stroke="#111" stroke-width="0"/>
<rect x="1543" y="687.5" width="20" height="52.7" fill="#fff" stroke="#111" stroke-width="0"/>
</g>
<clipPath id="cb"><rect x="1543" y="687.5" width="20" height="52.5"/></clipPath>
<g clip-path="url(#cb)">
<line x1="1543" y1="691" x2="1563" y2="675" stroke="#222" stroke-width="1"/>
<line x1="1543" y1="700" x2="1563" y2="684" stroke="#222" stroke-width="1"/>
<line x1="1543" y1="709" x2="1563" y2="693" stroke="#222" stroke-width="1"/>
<line x1="1543" y1="718" x2="1563" y2="702" stroke="#222" stroke-width="1"/>
<line x1="1543" y1="727" x2="1563" y2="711" stroke="#222" stroke-width="1"/>
<line x1="1543" y1="736" x2="1563" y2="720" stroke="#222" stroke-width="1"/>
<line x1="1543" y1="745" x2="1563" y2="729" stroke="#222" stroke-width="1"/>
<line x1="1543" y1="754" x2="1563" y2="738" stroke="#222" stroke-width="1"/>
<line x1="1543" y1="763" x2="1563" y2="747" stroke="#222" stroke-width="1"/>
</g>
<line x1="1523.4" y1="610.2" x2="1581.2" y2="610.2" stroke="#111" stroke-width="1.1"/>
<line x1="1530.8" y1="586.9" x2="1530.8" y2="671.6" stroke="#111" stroke-width="1.1"/>
<line x1="1572.6" y1="588" x2="1572.6" y2="659.4" stroke="#111" stroke-width="1.1"/>
<line x1="1526.8" y1="614.2" x2="1534.8" y2="606.2" stroke="#111" stroke-width="1.3"/>
<line x1="1568.6" y1="614.2" x2="1576.6" y2="606.2" stroke="#111" stroke-width="1.3"/>
<polyline points="1551.7,607.8 1557.8,561 1562.7,558.6" fill="none" stroke="#111" stroke-width="1"/>
<text x="1566.5" y="567.2" font-size="19.5" fill="#555" textLength="23" lengthAdjust="spacingAndGlyphs">10</text>
<line x1="1519.7" y1="632.3" x2="1519.7" y2="671.6" stroke="#111" stroke-width="1.1"/>
<line x1="1511.1" y1="654.4" x2="1539.4" y2="654.4" stroke="#111" stroke-width="1.1"/>
<line x1="1515.7" y1="658.4" x2="1523.7" y2="650.4" stroke="#111" stroke-width="1.3"/>
<line x1="1526.8" y1="658.4" x2="1534.8" y2="650.4" stroke="#111" stroke-width="1.3"/>
<text x="1520.5" y="645.5" font-size="14" fill="#444">3</text>
<text x="1428.2" y="694.8" font-size="17" fill="#333">3</text>
<line x1="1441.5" y1="688.8" x2="1462" y2="688.8" stroke="#111" stroke-width="1"/>
<line x1="1457" y1="682.7" x2="1481.6" y2="682.7" stroke="#111" stroke-width="1"/>
<line x1="1457" y1="693.8" x2="1508.7" y2="693.8" stroke="#111" stroke-width="1" stroke-dasharray="9,4"/>
<line x1="1478" y1="674" x2="1478" y2="702.4" stroke="#111" stroke-width="1"/>
<line x1="1474" y1="686.7" x2="1482" y2="678.7" stroke="#111" stroke-width="1.3"/>
<line x1="1474" y1="697.8" x2="1482" y2="689.8" stroke="#111" stroke-width="1.3"/>
<text x="1379.7" y="612.7" font-size="26.7" fill="#5a5a5a" textLength="137.3" lengthAdjust="spacingAndGlyphs">30cm—40cm</text>
<polyline points="1408,656.4 1408,756.4 1426.4,756.4" fill="none" stroke="#111" stroke-width="1.1"/>
<text x="1431.3" y="757.6" font-size="14.2" fill="#111" textLength="111.7" lengthAdjust="spacingAndGlyphs" stroke="#111" stroke-width="0.3">Besi di cat atau</text>
<text x="1431.3" y="774.3" font-size="15" fill="#111" textLength="93.3" lengthAdjust="spacingAndGlyphs" stroke="#111" stroke-width="0.3">stainless still</text>
<text x="1430.5" y="790.8" font-size="15.1" fill="#111" textLength="154.3" lengthAdjust="spacingAndGlyphs" stroke="#111" stroke-width="0.3">diameter 10 - 12 mm</text>
<text x="1315.8" y="504.6" font-size="16.1" fill="#111" textLength="176.9" lengthAdjust="spacingAndGlyphs" stroke="#111" stroke-width="0.3">Pasangan Bata Trasram</text>
<line x1="1344.5" y1="513" x2="1344.5" y2="634.8" stroke="#111" stroke-width="1"/>
<polyline points="1339.1,518.5 1344.5,512.5 1353.4,518" fill="none" stroke="#111" stroke-width="1"/>
<line x1="433.4" y1="989" x2="840.7" y2="989" stroke="#787878" stroke-width="1.3"/>
<line x1="433.4" y1="992.3" x2="840.7" y2="992.3" stroke="#787878" stroke-width="1.3"/>
<line x1="433.4" y1="996" x2="840.7" y2="996" stroke="#787878" stroke-width="1.3"/>
<line x1="433.4" y1="1003.4" x2="840.7" y2="1003.4" stroke="#787878" stroke-width="1.3"/>
<line x1="433.4" y1="1006.6" x2="840.7" y2="1006.6" stroke="#787878" stroke-width="1.3"/>
<line x1="433.4" y1="1013.9" x2="840.7" y2="1013.9" stroke="#787878" stroke-width="1.3"/>
<line x1="433.4" y1="1017.5" x2="840.7" y2="1017.5" stroke="#787878" stroke-width="1.3"/>
<line x1="433.4" y1="1024.8" x2="840.7" y2="1024.8" stroke="#999" stroke-width="1.2"/>
<line x1="433.4" y1="1028.2" x2="840.7" y2="1028.2" stroke="#787878" stroke-width="1.3"/>
<line x1="433.4" y1="1035.5" x2="840.7" y2="1035.5" stroke="#aaa" stroke-width="0.8"/>
<line x1="433.4" y1="1039.4" x2="840.7" y2="1039.4" stroke="#787878" stroke-width="1.3"/>
<line x1="433.4" y1="1052.2" x2="840.7" y2="1052.2" stroke="#787878" stroke-width="1.4"/>
<line x1="433.4" y1="1095.6" x2="840.7" y2="1095.6" stroke="#787878" stroke-width="1.4"/>
<line x1="433.4" y1="1138.6" x2="840.7" y2="1138.6" stroke="#787878" stroke-width="1.4"/>
<rect x="433.4" y="967.4" width="407.3" height="214.5" fill="none" stroke="#787878" stroke-width="1.4"/>
<line x1="474.1" y1="1052.2" x2="474.1" y2="1181.9" stroke="#787878" stroke-width="1.4"/>
<line x1="514.7" y1="1052.2" x2="514.7" y2="1181.9" stroke="#787878" stroke-width="1.4"/>
<line x1="555.5" y1="1052.2" x2="555.5" y2="1181.9" stroke="#787878" stroke-width="1.4"/>
<line x1="596.3" y1="1052.2" x2="596.3" y2="1181.9" stroke="#787878" stroke-width="1.4"/>
<line x1="677.9" y1="1052.2" x2="677.9" y2="1181.9" stroke="#787878" stroke-width="1.4"/>
<line x1="718.7" y1="1052.2" x2="718.7" y2="1181.9" stroke="#787878" stroke-width="1.4"/>
<line x1="759.3" y1="1052.2" x2="759.3" y2="1181.9" stroke="#787878" stroke-width="1.4"/>
<line x1="800.1" y1="1052.2" x2="800.1" y2="1181.9" stroke="#787878" stroke-width="1.4"/>
<line x1="637.1" y1="951.4" x2="637.1" y2="1181.9" stroke="#aaa" stroke-width="0.9"/>
<rect x="480.7" y="1095.6" width="40.4" height="36.2" fill="#fff" stroke="#787878" stroke-width="1.4"/>
<path d="M482.2,1093.6V1100.1H489.2" fill="none" stroke="#777" stroke-width="1.2"/>
<path d="M491.3,1093.6V1100.1H498.3" fill="none" stroke="#777" stroke-width="1.2"/>
<path d="M500.7,1093.6V1100.1H507.7" fill="none" stroke="#777" stroke-width="1.2"/>
<path d="M510.2,1093.6V1100.1H517.2" fill="none" stroke="#777" stroke-width="1.2"/>
<path d="M482.2,1103.4V1109.9H489.2" fill="none" stroke="#777" stroke-width="1.2"/>
<path d="M491.3,1103.4V1109.9H498.3" fill="none" stroke="#777" stroke-width="1.2"/>
<path d="M500.7,1103.4V1109.9H507.7" fill="none" stroke="#777" stroke-width="1.2"/>
<path d="M510.2,1103.4V1109.9H517.2" fill="none" stroke="#777" stroke-width="1.2"/>
<path d="M482.2,1113.2V1119.7H489.2" fill="none" stroke="#777" stroke-width="1.2"/>
<path d="M491.3,1113.2V1119.7H498.3" fill="none" stroke="#777" stroke-width="1.2"/>
<path d="M500.7,1113.2V1119.7H507.7" fill="none" stroke="#777" stroke-width="1.2"/>
<path d="M510.2,1113.2V1119.7H517.2" fill="none" stroke="#777" stroke-width="1.2"/>
<path d="M482.2,1123.1V1129.6H489.2" fill="none" stroke="#777" stroke-width="1.2"/>
<path d="M491.3,1123.1V1129.6H498.3" fill="none" stroke="#777" stroke-width="1.2"/>
<path d="M500.7,1123.1V1129.6H507.7" fill="none" stroke="#777" stroke-width="1.2"/>
<path d="M510.2,1123.1V1129.6H517.2" fill="none" stroke="#777" stroke-width="1.2"/>
<line x1="519.7" y1="1097" x2="519.7" y2="1131" stroke="#777" stroke-width="1.2" stroke-dasharray="4,2"/>
<line x1="469.4" y1="1091.4" x2="469.4" y2="1107.8" stroke="#555" stroke-width="1.1"/>
<line x1="469.4" y1="1119.4" x2="469.4" y2="1136" stroke="#555" stroke-width="1.1"/>
<line x1="465.2" y1="1131.8" x2="476.5" y2="1131.8" stroke="#555" stroke-width="1.1"/>
<text x="459.9" y="1117.5" font-size="11" fill="#3a3a3a" textLength="20.4" lengthAdjust="spacingAndGlyphs" stroke="#3a3a3a" stroke-width="0.25">25cm</text>
<line x1="476.2" y1="1145.8" x2="489.7" y2="1145.8" stroke="#888" stroke-width="1.1"/>
<line x1="512.2" y1="1145.8" x2="525.7" y2="1145.8" stroke="#888" stroke-width="1.1"/>
<line x1="480.7" y1="1139" x2="480.7" y2="1150.4" stroke="#555" stroke-width="1.1"/>
<line x1="521.1" y1="1139" x2="521.1" y2="1150.4" stroke="#555" stroke-width="1.1"/>
<text x="490.9" y="1149.6" font-size="10.5" fill="#3a3a3a" textLength="20.4" lengthAdjust="spacingAndGlyphs" stroke="#3a3a3a" stroke-width="0.25">30cm</text>
<rect x="616.7" y="1095.6" width="40.4" height="36.2" fill="#fff" stroke="#787878" stroke-width="1.4"/>
<path d="M618.2,1093.6V1100.1H625.2" fill="none" stroke="#777" stroke-width="1.2"/>
<path d="M627.3,1093.6V1100.1H634.3" fill="none" stroke="#777" stroke-width="1.2"/>
<path d="M636.7,1093.6V1100.1H643.7" fill="none" stroke="#777" stroke-width="1.2"/>
<path d="M646.2,1093.6V1100.1H653.2" fill="none" stroke="#777" stroke-width="1.2"/>
<path d="M618.2,1103.4V1109.9H625.2" fill="none" stroke="#777" stroke-width="1.2"/>
<path d="M627.3,1103.4V1109.9H634.3" fill="none" stroke="#777" stroke-width="1.2"/>
<path d="M636.7,1103.4V1109.9H643.7" fill="none" stroke="#777" stroke-width="1.2"/>
<path d="M646.2,1103.4V1109.9H653.2" fill="none" stroke="#777" stroke-width="1.2"/>
<path d="M618.2,1113.2V1119.7H625.2" fill="none" stroke="#777" stroke-width="1.2"/>
<path d="M627.3,1113.2V1119.7H634.3" fill="none" stroke="#777" stroke-width="1.2"/>
<path d="M636.7,1113.2V1119.7H643.7" fill="none" stroke="#777" stroke-width="1.2"/>
<path d="M646.2,1113.2V1119.7H653.2" fill="none" stroke="#777" stroke-width="1.2"/>
<path d="M618.2,1123.1V1129.6H625.2" fill="none" stroke="#777" stroke-width="1.2"/>
<path d="M627.3,1123.1V1129.6H634.3" fill="none" stroke="#777" stroke-width="1.2"/>
<path d="M636.7,1123.1V1129.6H643.7" fill="none" stroke="#777" stroke-width="1.2"/>
<path d="M646.2,1123.1V1129.6H653.2" fill="none" stroke="#777" stroke-width="1.2"/>
<line x1="655.7" y1="1097" x2="655.7" y2="1131" stroke="#777" stroke-width="1.2" stroke-dasharray="4,2"/>
<line x1="605.4" y1="1091.4" x2="605.4" y2="1107.8" stroke="#555" stroke-width="1.1"/>
<line x1="605.4" y1="1119.4" x2="605.4" y2="1136" stroke="#555" stroke-width="1.1"/>
<line x1="601.2" y1="1131.8" x2="612.5" y2="1131.8" stroke="#555" stroke-width="1.1"/>
<text x="595.9" y="1117.5" font-size="11" fill="#3a3a3a" textLength="20.4" lengthAdjust="spacingAndGlyphs" stroke="#3a3a3a" stroke-width="0.25">25cm</text>
<line x1="612.2" y1="1145.8" x2="625.7" y2="1145.8" stroke="#888" stroke-width="1.1"/>
<line x1="648.2" y1="1145.8" x2="661.7" y2="1145.8" stroke="#888" stroke-width="1.1"/>
<line x1="616.7" y1="1139" x2="616.7" y2="1150.4" stroke="#555" stroke-width="1.1"/>
<line x1="657.1" y1="1139" x2="657.1" y2="1150.4" stroke="#555" stroke-width="1.1"/>
<text x="626.9" y="1149.6" font-size="10.5" fill="#3a3a3a" textLength="20.4" lengthAdjust="spacingAndGlyphs" stroke="#3a3a3a" stroke-width="0.25">30cm</text>
<rect x="752.7" y="1095.6" width="40.4" height="36.2" fill="#fff" stroke="#787878" stroke-width="1.4"/>
<path d="M754.2,1093.6V1100.1H761.2" fill="none" stroke="#777" stroke-width="1.2"/>
<path d="M763.3,1093.6V1100.1H770.3" fill="none" stroke="#777" stroke-width="1.2"/>
<path d="M772.7,1093.6V1100.1H779.7" fill="none" stroke="#777" stroke-width="1.2"/>
<path d="M782.2,1093.6V1100.1H789.2" fill="none" stroke="#777" stroke-width="1.2"/>
<path d="M754.2,1103.4V1109.9H761.2" fill="none" stroke="#777" stroke-width="1.2"/>
<path d="M763.3,1103.4V1109.9H770.3" fill="none" stroke="#777" stroke-width="1.2"/>
<path d="M772.7,1103.4V1109.9H779.7" fill="none" stroke="#777" stroke-width="1.2"/>
<path d="M782.2,1103.4V1109.9H789.2" fill="none" stroke="#777" stroke-width="1.2"/>
<path d="M754.2,1113.2V1119.7H761.2" fill="none" stroke="#777" stroke-width="1.2"/>
<path d="M763.3,1113.2V1119.7H770.3" fill="none" stroke="#777" stroke-width="1.2"/>
<path d="M772.7,1113.2V1119.7H779.7" fill="none" stroke="#777" stroke-width="1.2"/>
<path d="M782.2,1113.2V1119.7H789.2" fill="none" stroke="#777" stroke-width="1.2"/>
<path d="M754.2,1123.1V1129.6H761.2" fill="none" stroke="#777" stroke-width="1.2"/>
<path d="M763.3,1123.1V1129.6H770.3" fill="none" stroke="#777" stroke-width="1.2"/>
<path d="M772.7,1123.1V1129.6H779.7" fill="none" stroke="#777" stroke-width="1.2"/>
<path d="M782.2,1123.1V1129.6H789.2" fill="none" stroke="#777" stroke-width="1.2"/>
<line x1="791.7" y1="1097" x2="791.7" y2="1131" stroke="#777" stroke-width="1.2" stroke-dasharray="4,2"/>
<line x1="741.4" y1="1091.4" x2="741.4" y2="1107.8" stroke="#555" stroke-width="1.1"/>
<line x1="741.4" y1="1119.4" x2="741.4" y2="1136" stroke="#555" stroke-width="1.1"/>
<line x1="737.2" y1="1131.8" x2="748.5" y2="1131.8" stroke="#555" stroke-width="1.1"/>
<text x="731.9" y="1117.5" font-size="11" fill="#3a3a3a" textLength="20.4" lengthAdjust="spacingAndGlyphs" stroke="#3a3a3a" stroke-width="0.25">25cm</text>
<line x1="748.2" y1="1145.8" x2="761.7" y2="1145.8" stroke="#888" stroke-width="1.1"/>
<line x1="784.2" y1="1145.8" x2="797.7" y2="1145.8" stroke="#888" stroke-width="1.1"/>
<line x1="752.7" y1="1139" x2="752.7" y2="1150.4" stroke="#555" stroke-width="1.1"/>
<line x1="793.1" y1="1139" x2="793.1" y2="1150.4" stroke="#555" stroke-width="1.1"/>
<text x="762.9" y="1149.6" font-size="10.5" fill="#3a3a3a" textLength="20.4" lengthAdjust="spacingAndGlyphs" stroke="#3a3a3a" stroke-width="0.25">30cm</text>
<path d="M498.8,989.5 h5 v8 l3.5,1.5 l-3,5 v8 a2.5,2.5 0 0 1 -5,0 v-8 l-3,-5 l3.5,-1.5z" fill="#fff" stroke="#666" stroke-width="1.1"/>
<circle cx="501.3" cy="1005" r="1.6" fill="none" stroke="#666" stroke-width="0.9"/>
<path d="M634.5,989.5 h5 v8 l3.5,1.5 l-3,5 v8 a2.5,2.5 0 0 1 -5,0 v-8 l-3,-5 l3.5,-1.5z" fill="#fff" stroke="#666" stroke-width="1.1"/>
<circle cx="637" cy="1005" r="1.6" fill="none" stroke="#666" stroke-width="0.9"/>
<path d="M770.1,989.5 h5 v8 l3.5,1.5 l-3,5 v8 a2.5,2.5 0 0 1 -5,0 v-8 l-3,-5 l3.5,-1.5z" fill="#fff" stroke="#666" stroke-width="1.1"/>
<circle cx="772.6" cy="1005" r="1.6" fill="none" stroke="#666" stroke-width="0.9"/>
<line x1="501.3" y1="946.8" x2="501.3" y2="983" stroke="#787878" stroke-width="1.1"/>
<line x1="772.6" y1="946.8" x2="772.6" y2="983" stroke="#787878" stroke-width="1.1"/>
<line x1="496" y1="951.4" x2="778" y2="951.4" stroke="#787878" stroke-width="1.1"/>
<rect x="540" y="939" width="58" height="11" fill="#fff"/>
<rect x="675" y="939" width="58" height="11" fill="#fff"/>
<text x="541.8" y="949.4" font-size="11.3" fill="#3a3a3a" textLength="54.2" lengthAdjust="spacingAndGlyphs" stroke="#3a3a3a" stroke-width="0.25">80cm - 100cm</text>
<text x="677.4" y="949.4" font-size="11.3" fill="#3a3a3a" textLength="54.3" lengthAdjust="spacingAndGlyphs" stroke="#3a3a3a" stroke-width="0.25">80cm - 100cm</text>
<line x1="596.3" y1="962" x2="596.3" y2="1052.2" stroke="#555" stroke-width="1.1" stroke-dasharray="10,3,1.5,3"/>
<polygon points="582.7,960.6 590.4,957.2 590.4,964" fill="#444"/>
<polyline points="590,960.6 596.3,960.6 596.3,956.1" fill="none" stroke="#444" stroke-width="1.1"/>
<polygon points="582.7,1099.3 590.4,1095.9 590.4,1102.7" fill="#444"/>
<polyline points="590,1099.3 596.3,1099.3 596.3,1094.8" fill="none" stroke="#444" stroke-width="1.1"/>
<text x="605.4" y="1078.9" font-size="9.9" fill="#3a3a3a" textLength="21.9" lengthAdjust="spacingAndGlyphs" stroke="#3a3a3a" stroke-width="0.25">± 0.00</text>
<rect x="600" y="1016" width="49" height="11" fill="#fff"/>
<text x="601.2" y="1025.6" font-size="10.6" fill="#3a3a3a" textLength="46.5" lengthAdjust="spacingAndGlyphs" stroke="#3a3a3a" stroke-width="0.25">(5cm - 10cm)</text>
<line x1="407" y1="962.3" x2="407" y2="1099.2" stroke="#787878" stroke-width="1.1"/>
<line x1="403" y1="967.4" x2="429.4" y2="967.4" stroke="#787878" stroke-width="1.1"/>
<line x1="403" y1="989" x2="429.4" y2="989" stroke="#787878" stroke-width="1.1"/>
<line x1="403" y1="1039.4" x2="429.4" y2="1039.4" stroke="#787878" stroke-width="1.1"/>
<line x1="403" y1="1052.2" x2="429.4" y2="1052.2" stroke="#787878" stroke-width="1.1"/>
<line x1="403" y1="1095.6" x2="429.4" y2="1095.6" stroke="#787878" stroke-width="1.1"/>
<rect x="396.6" y="973.4" width="20.9" height="9.3" fill="#fff"/>
<text x="397.1" y="981.7" font-size="10.6" fill="#3a3a3a" textLength="19.9" lengthAdjust="spacingAndGlyphs" stroke="#3a3a3a" stroke-width="0.25">15cm</text>
<rect x="381.9" y="1009.6" width="50.1" height="9.2" fill="#fff"/>
<text x="382.4" y="1017.8" font-size="10.5" fill="#3a3a3a" textLength="49.1" lengthAdjust="spacingAndGlyphs" stroke="#3a3a3a" stroke-width="0.25">30cm - 40cm</text>
<rect x="398.7" y="1041.4" width="17" height="8.9" fill="#fff"/>
<text x="399.2" y="1049.3" font-size="10" fill="#3a3a3a" textLength="16" lengthAdjust="spacingAndGlyphs" stroke="#3a3a3a" stroke-width="0.25">9cm</text>
<rect x="381.9" y="1069.8" width="50.1" height="9" fill="#fff"/>
<text x="382.4" y="1077.8" font-size="10.2" fill="#3a3a3a" textLength="49.1" lengthAdjust="spacingAndGlyphs" stroke="#3a3a3a" stroke-width="0.25">30cm - 40cm</text>
<polyline points="860,948.3 845.3,948.3 829.3,979" fill="none" stroke="#555" stroke-width="1"/>
<circle cx="829.3" cy="979" r="1.8" fill="#555"/>
<text x="862.1" y="952" font-size="10.2" fill="#3a3a3a" textLength="25.7" lengthAdjust="spacingAndGlyphs" stroke="#3a3a3a" stroke-width="0.25">Dinding</text>
<polyline points="860,990.7 845.3,990.7 829.3,1015.8" fill="none" stroke="#555" stroke-width="1"/>
<circle cx="829.3" cy="1015.8" r="1.8" fill="#555"/>
<text x="862.1" y="994.6" font-size="10.6" fill="#3a3a3a" textLength="43.9" lengthAdjust="spacingAndGlyphs" stroke="#3a3a3a" stroke-width="0.25">Kisi-kisi Besi</text>
<polyline points="860,1020.4 845.3,1020.4 829.3,1046.2" fill="none" stroke="#555" stroke-width="1"/>
<circle cx="829.3" cy="1046.2" r="1.8" fill="#555"/>
<text x="862.1" y="1024.3" font-size="10.6" fill="#3a3a3a" textLength="76.2" lengthAdjust="spacingAndGlyphs" stroke="#3a3a3a" stroke-width="0.25">Pasangan Bata Miring</text>
<polyline points="860,1061 845.3,1061 769.9,1107" fill="none" stroke="#555" stroke-width="1"/>
<circle cx="769.9" cy="1107" r="1.8" fill="#555"/>
<text x="863.9" y="1064.9" font-size="10.9" fill="#3a3a3a" textLength="51.2" lengthAdjust="spacingAndGlyphs" stroke="#3a3a3a" stroke-width="0.25">Tempat Duduk</text>
<polyline points="860,1093.3 845.3,1093.3 829.3,1118" fill="none" stroke="#555" stroke-width="1"/>
<circle cx="829.3" cy="1118" r="1.8" fill="#555"/>
<text x="862.1" y="1096.6" font-size="10.2" fill="#3a3a3a" textLength="80.1" lengthAdjust="spacingAndGlyphs" stroke="#3a3a3a" stroke-width="0.25">Lantai Bertekstur Kasar</text>
<text x="891.6" y="947.2" font-size="6.6" fill="#3a3a3a" text-anchor="middle">1</text>
<line x1="889.4" y1="948.2" x2="893.8" y2="948.2" stroke="#3a3a3a" stroke-width="0.7"/>
<text x="891.6" y="954" font-size="6.6" fill="#3a3a3a" text-anchor="middle">2</text>
<text x="894.5" y="952" font-size="10.2" fill="#3a3a3a" textLength="16.7" lengthAdjust="spacingAndGlyphs" stroke="#3a3a3a" stroke-width="0.25">Bata</text>
<polyline points="803,958.4 789.8,958.4 772.6,990" fill="none" stroke="#555" stroke-width="1"/>
<circle cx="772.6" cy="990" r="1.8" fill="#444"/>
<text x="805.3" y="962.3" font-size="10.5" fill="#3a3a3a" textLength="27.1" lengthAdjust="spacingAndGlyphs" stroke="#3a3a3a" stroke-width="0.25">Kran air</text>
<line x1="1313.5" y1="990.3" x2="1313.5" y2="1118.5" stroke="#a8a8a8" stroke-width="1.3"/>
<line x1="1313.5" y1="1148.1" x2="1313.5" y2="1178.4" stroke="#a8a8a8" stroke-width="1.3"/>
<line x1="1340.4" y1="990.3" x2="1340.4" y2="1118.5" stroke="#a8a8a8" stroke-width="1.3"/>
<line x1="1340.4" y1="1148.1" x2="1340.4" y2="1178.4" stroke="#a8a8a8" stroke-width="1.3"/>
<line x1="1366.5" y1="990.3" x2="1366.5" y2="1118.5" stroke="#a8a8a8" stroke-width="1.3"/>
<line x1="1366.5" y1="1148.1" x2="1366.5" y2="1178.4" stroke="#a8a8a8" stroke-width="1.3"/>
<line x1="1392.6" y1="990.3" x2="1392.6" y2="1118.5" stroke="#a8a8a8" stroke-width="1.3"/>
<line x1="1392.6" y1="1148.1" x2="1392.6" y2="1178.4" stroke="#a8a8a8" stroke-width="1.3"/>
<line x1="1419" y1="990.3" x2="1419" y2="1118.5" stroke="#a8a8a8" stroke-width="1.3"/>
<line x1="1419" y1="1148.1" x2="1419" y2="1178.4" stroke="#a8a8a8" stroke-width="1.3"/>
<line x1="1445.3" y1="990.3" x2="1445.3" y2="1118.5" stroke="#a8a8a8" stroke-width="1.3"/>
<line x1="1445.3" y1="1148.1" x2="1445.3" y2="1178.4" stroke="#a8a8a8" stroke-width="1.3"/>
<line x1="1472" y1="990.3" x2="1472" y2="1118.5" stroke="#a8a8a8" stroke-width="1.3"/>
<line x1="1472" y1="1148.1" x2="1472" y2="1178.4" stroke="#a8a8a8" stroke-width="1.3"/>
<line x1="1498.5" y1="990.3" x2="1498.5" y2="1118.5" stroke="#a8a8a8" stroke-width="1.3"/>
<line x1="1498.5" y1="1148.1" x2="1498.5" y2="1178.4" stroke="#a8a8a8" stroke-width="1.3"/>
<line x1="1524.7" y1="990.3" x2="1524.7" y2="1118.5" stroke="#a8a8a8" stroke-width="1.3"/>
<line x1="1524.7" y1="1148.1" x2="1524.7" y2="1178.4" stroke="#a8a8a8" stroke-width="1.3"/>
<line x1="1551.4" y1="990.3" x2="1551.4" y2="1118.5" stroke="#a8a8a8" stroke-width="1.3"/>
<line x1="1551.4" y1="1148.1" x2="1551.4" y2="1178.4" stroke="#a8a8a8" stroke-width="1.3"/>
<line x1="1577.6" y1="990.3" x2="1577.6" y2="1118.5" stroke="#a8a8a8" stroke-width="1.3"/>
<line x1="1577.6" y1="1148.1" x2="1577.6" y2="1178.4" stroke="#a8a8a8" stroke-width="1.3"/>
<line x1="1604" y1="990.3" x2="1604" y2="1118.5" stroke="#a8a8a8" stroke-width="1.3"/>
<line x1="1604" y1="1148.1" x2="1604" y2="1178.4" stroke="#a8a8a8" stroke-width="1.3"/>
<line x1="1630.2" y1="990.3" x2="1630.2" y2="1118.5" stroke="#a8a8a8" stroke-width="1.3"/>
<line x1="1630.2" y1="1148.1" x2="1630.2" y2="1178.4" stroke="#a8a8a8" stroke-width="1.3"/>
<line x1="1656.7" y1="990.3" x2="1656.7" y2="1118.5" stroke="#a8a8a8" stroke-width="1.3"/>
<line x1="1656.7" y1="1148.1" x2="1656.7" y2="1178.4" stroke="#a8a8a8" stroke-width="1.3"/>
<line x1="1683.1" y1="990.3" x2="1683.1" y2="1118.5" stroke="#a8a8a8" stroke-width="1.3"/>
<line x1="1683.1" y1="1148.1" x2="1683.1" y2="1178.4" stroke="#a8a8a8" stroke-width="1.3"/>
<line x1="1709.6" y1="990.3" x2="1709.6" y2="1118.5" stroke="#a8a8a8" stroke-width="1.3"/>
<line x1="1709.6" y1="1148.1" x2="1709.6" y2="1178.4" stroke="#a8a8a8" stroke-width="1.3"/>
<line x1="1313.5" y1="1118.5" x2="1313.5" y2="1148.1" stroke="#a8a8a8" stroke-width="1.3"/>
<line x1="1709.6" y1="1118.5" x2="1709.6" y2="1148.1" stroke="#a8a8a8" stroke-width="1.3"/>
<line x1="1313.5" y1="990.3" x2="1709.6" y2="990.3" stroke="#a8a8a8" stroke-width="1.3"/>
<line x1="1313.5" y1="1026.9" x2="1709.6" y2="1026.9" stroke="#a8a8a8" stroke-width="1.3"/>
<line x1="1313.5" y1="1063.6" x2="1709.6" y2="1063.6" stroke="#a8a8a8" stroke-width="1.3"/>
<line x1="1313.5" y1="1100" x2="1709.6" y2="1100" stroke="#a8a8a8" stroke-width="1.3"/>
<line x1="1313.5" y1="1118.5" x2="1709.6" y2="1118.5" stroke="#a8a8a8" stroke-width="1.3"/>
<line x1="1313.5" y1="1148.1" x2="1709.6" y2="1148.1" stroke="#a8a8a8" stroke-width="1.3"/>
<rect x="1313.5" y="1178.4" width="396.1" height="4.3" fill="#9a9a9a" stroke="#a8a8a8" stroke-width="0"/>
<line x1="1313.5" y1="1178.4" x2="1709.6" y2="1178.4" stroke="#888" stroke-width="1.3"/>
<line x1="1313.5" y1="1186.9" x2="1709.6" y2="1186.9" stroke="#aaa" stroke-width="1.3"/>
<line x1="1313.5" y1="1178.4" x2="1313.5" y2="1186.9" stroke="#aaa" stroke-width="1.3"/>
<line x1="1709.6" y1="1178.4" x2="1709.6" y2="1186.9" stroke="#aaa" stroke-width="1.3"/>
<rect x="1317.8" y="1122.4" width="41.7" height="21.1" fill="#d6d6d6" stroke="#888" stroke-width="1.3"/>
<line x1="1318.3" y1="1124.5" x2="1359" y2="1124.5" stroke="#b0b0b0" stroke-width="0.9"/>
<line x1="1318.3" y1="1126.5" x2="1359" y2="1126.5" stroke="#b0b0b0" stroke-width="0.9"/>
<line x1="1318.3" y1="1128.4" x2="1359" y2="1128.4" stroke="#b0b0b0" stroke-width="0.9"/>
<line x1="1318.3" y1="1130.3" x2="1359" y2="1130.3" stroke="#8a8a8a" stroke-width="0.9"/>
<line x1="1318.3" y1="1132.3" x2="1359" y2="1132.3" stroke="#8a8a8a" stroke-width="0.9"/>
<line x1="1318.3" y1="1134.2" x2="1359" y2="1134.2" stroke="#8a8a8a" stroke-width="0.9"/>
<line x1="1318.3" y1="1136.2" x2="1359" y2="1136.2" stroke="#8a8a8a" stroke-width="0.9"/>
<line x1="1318.3" y1="1138.2" x2="1359" y2="1138.2" stroke="#b0b0b0" stroke-width="0.9"/>
<line x1="1318.3" y1="1140.1" x2="1359" y2="1140.1" stroke="#b0b0b0" stroke-width="0.9"/>
<line x1="1318.3" y1="1142" x2="1359" y2="1142" stroke="#8a8a8a" stroke-width="0.9"/>
<rect x="1399.4" y="1122.4" width="44.2" height="21.1" fill="#d6d6d6" stroke="#888" stroke-width="1.3"/>
<line x1="1399.9" y1="1124.5" x2="1443.1" y2="1124.5" stroke="#b0b0b0" stroke-width="0.9"/>
<line x1="1399.9" y1="1126.5" x2="1443.1" y2="1126.5" stroke="#b0b0b0" stroke-width="0.9"/>
<line x1="1399.9" y1="1128.4" x2="1443.1" y2="1128.4" stroke="#b0b0b0" stroke-width="0.9"/>
<line x1="1399.9" y1="1130.3" x2="1443.1" y2="1130.3" stroke="#8a8a8a" stroke-width="0.9"/>
<line x1="1399.9" y1="1132.3" x2="1443.1" y2="1132.3" stroke="#8a8a8a" stroke-width="0.9"/>
<line x1="1399.9" y1="1134.2" x2="1443.1" y2="1134.2" stroke="#8a8a8a" stroke-width="0.9"/>
<line x1="1399.9" y1="1136.2" x2="1443.1" y2="1136.2" stroke="#8a8a8a" stroke-width="0.9"/>
<line x1="1399.9" y1="1138.2" x2="1443.1" y2="1138.2" stroke="#b0b0b0" stroke-width="0.9"/>
<line x1="1399.9" y1="1140.1" x2="1443.1" y2="1140.1" stroke="#b0b0b0" stroke-width="0.9"/>
<line x1="1399.9" y1="1142" x2="1443.1" y2="1142" stroke="#8a8a8a" stroke-width="0.9"/>
<rect x="1447.2" y="1122.4" width="44.8" height="21.1" fill="#d6d6d6" stroke="#888" stroke-width="1.3"/>
<line x1="1447.7" y1="1124.5" x2="1491.5" y2="1124.5" stroke="#b0b0b0" stroke-width="0.9"/>
<line x1="1447.7" y1="1126.5" x2="1491.5" y2="1126.5" stroke="#b0b0b0" stroke-width="0.9"/>
<line x1="1447.7" y1="1128.4" x2="1491.5" y2="1128.4" stroke="#b0b0b0" stroke-width="0.9"/>
<line x1="1447.7" y1="1130.3" x2="1491.5" y2="1130.3" stroke="#8a8a8a" stroke-width="0.9"/>
<line x1="1447.7" y1="1132.3" x2="1491.5" y2="1132.3" stroke="#8a8a8a" stroke-width="0.9"/>
<line x1="1447.7" y1="1134.2" x2="1491.5" y2="1134.2" stroke="#8a8a8a" stroke-width="0.9"/>
<line x1="1447.7" y1="1136.2" x2="1491.5" y2="1136.2" stroke="#8a8a8a" stroke-width="0.9"/>
<line x1="1447.7" y1="1138.2" x2="1491.5" y2="1138.2" stroke="#b0b0b0" stroke-width="0.9"/>
<line x1="1447.7" y1="1140.1" x2="1491.5" y2="1140.1" stroke="#b0b0b0" stroke-width="0.9"/>
<line x1="1447.7" y1="1142" x2="1491.5" y2="1142" stroke="#8a8a8a" stroke-width="0.9"/>
<rect x="1531.3" y="1122.4" width="44.2" height="21.1" fill="#d6d6d6" stroke="#888" stroke-width="1.3"/>
<line x1="1531.8" y1="1124.5" x2="1575" y2="1124.5" stroke="#b0b0b0" stroke-width="0.9"/>
<line x1="1531.8" y1="1126.5" x2="1575" y2="1126.5" stroke="#b0b0b0" stroke-width="0.9"/>
<line x1="1531.8" y1="1128.4" x2="1575" y2="1128.4" stroke="#b0b0b0" stroke-width="0.9"/>
<line x1="1531.8" y1="1130.3" x2="1575" y2="1130.3" stroke="#8a8a8a" stroke-width="0.9"/>
<line x1="1531.8" y1="1132.3" x2="1575" y2="1132.3" stroke="#8a8a8a" stroke-width="0.9"/>
<line x1="1531.8" y1="1134.2" x2="1575" y2="1134.2" stroke="#8a8a8a" stroke-width="0.9"/>
<line x1="1531.8" y1="1136.2" x2="1575" y2="1136.2" stroke="#8a8a8a" stroke-width="0.9"/>
<line x1="1531.8" y1="1138.2" x2="1575" y2="1138.2" stroke="#b0b0b0" stroke-width="0.9"/>
<line x1="1531.8" y1="1140.1" x2="1575" y2="1140.1" stroke="#b0b0b0" stroke-width="0.9"/>
<line x1="1531.8" y1="1142" x2="1575" y2="1142" stroke="#8a8a8a" stroke-width="0.9"/>
<rect x="1579.3" y="1122.4" width="30.7" height="21.1" fill="#d6d6d6" stroke="#888" stroke-width="1.3"/>
<line x1="1579.8" y1="1124.5" x2="1609.5" y2="1124.5" stroke="#b0b0b0" stroke-width="0.9"/>
<line x1="1579.8" y1="1126.5" x2="1609.5" y2="1126.5" stroke="#b0b0b0" stroke-width="0.9"/>
<line x1="1579.8" y1="1128.4" x2="1609.5" y2="1128.4" stroke="#b0b0b0" stroke-width="0.9"/>
<line x1="1579.8" y1="1130.3" x2="1609.5" y2="1130.3" stroke="#8a8a8a" stroke-width="0.9"/>
<line x1="1579.8" y1="1132.3" x2="1609.5" y2="1132.3" stroke="#8a8a8a" stroke-width="0.9"/>
<line x1="1579.8" y1="1134.2" x2="1609.5" y2="1134.2" stroke="#8a8a8a" stroke-width="0.9"/>
<line x1="1579.8" y1="1136.2" x2="1609.5" y2="1136.2" stroke="#8a8a8a" stroke-width="0.9"/>
<line x1="1579.8" y1="1138.2" x2="1609.5" y2="1138.2" stroke="#b0b0b0" stroke-width="0.9"/>
<line x1="1579.8" y1="1140.1" x2="1609.5" y2="1140.1" stroke="#b0b0b0" stroke-width="0.9"/>
<line x1="1579.8" y1="1142" x2="1609.5" y2="1142" stroke="#8a8a8a" stroke-width="0.9"/>
<rect x="1678.2" y="1122.4" width="27.1" height="21.1" fill="#d6d6d6" stroke="#888" stroke-width="1.3"/>
<line x1="1678.7" y1="1124.5" x2="1704.8" y2="1124.5" stroke="#b0b0b0" stroke-width="0.9"/>
<line x1="1678.7" y1="1126.5" x2="1704.8" y2="1126.5" stroke="#b0b0b0" stroke-width="0.9"/>
<line x1="1678.7" y1="1128.4" x2="1704.8" y2="1128.4" stroke="#b0b0b0" stroke-width="0.9"/>
<line x1="1678.7" y1="1130.3" x2="1704.8" y2="1130.3" stroke="#8a8a8a" stroke-width="0.9"/>
<line x1="1678.7" y1="1132.3" x2="1704.8" y2="1132.3" stroke="#8a8a8a" stroke-width="0.9"/>
<line x1="1678.7" y1="1134.2" x2="1704.8" y2="1134.2" stroke="#8a8a8a" stroke-width="0.9"/>
<line x1="1678.7" y1="1136.2" x2="1704.8" y2="1136.2" stroke="#8a8a8a" stroke-width="0.9"/>
<line x1="1678.7" y1="1138.2" x2="1704.8" y2="1138.2" stroke="#b0b0b0" stroke-width="0.9"/>
<line x1="1678.7" y1="1140.1" x2="1704.8" y2="1140.1" stroke="#b0b0b0" stroke-width="0.9"/>
<line x1="1678.7" y1="1142" x2="1704.8" y2="1142" stroke="#8a8a8a" stroke-width="0.9"/>
<rect x="1359.9" y="1119.6" width="39.3" height="58.8" fill="#fff" stroke="#999" stroke-width="1.3"/>
<path d="M1362.4,1123.5V1130.6H1369.2" fill="none" stroke="#8a8a8a" stroke-width="1.1"/>
<path d="M1371.6,1123.5V1130.6H1378.4" fill="none" stroke="#8a8a8a" stroke-width="1.1"/>
<path d="M1380.5,1123.5V1130.6H1387.3" fill="none" stroke="#8a8a8a" stroke-width="1.1"/>
<path d="M1389.4,1123.5V1130.6H1396.2" fill="none" stroke="#8a8a8a" stroke-width="1.1"/>
<path d="M1362.4,1133.5V1140.6H1369.2" fill="none" stroke="#8a8a8a" stroke-width="1.1"/>
<path d="M1371.6,1133.5V1140.6H1378.4" fill="none" stroke="#8a8a8a" stroke-width="1.1"/>
<path d="M1380.5,1133.5V1140.6H1387.3" fill="none" stroke="#8a8a8a" stroke-width="1.1"/>
<path d="M1389.4,1133.5V1140.6H1396.2" fill="none" stroke="#8a8a8a" stroke-width="1.1"/>
<path d="M1362.4,1143.5V1150.6H1369.2" fill="none" stroke="#8a8a8a" stroke-width="1.1"/>
<path d="M1371.6,1143.5V1150.6H1378.4" fill="none" stroke="#8a8a8a" stroke-width="1.1"/>
<path d="M1380.5,1143.5V1150.6H1387.3" fill="none" stroke="#8a8a8a" stroke-width="1.1"/>
<path d="M1389.4,1143.5V1150.6H1396.2" fill="none" stroke="#8a8a8a" stroke-width="1.1"/>
<path d="M1362.4,1153.5V1160.6H1369.2" fill="none" stroke="#8a8a8a" stroke-width="1.1"/>
<path d="M1371.6,1153.5V1160.6H1378.4" fill="none" stroke="#8a8a8a" stroke-width="1.1"/>
<path d="M1380.5,1153.5V1160.6H1387.3" fill="none" stroke="#8a8a8a" stroke-width="1.1"/>
<path d="M1389.4,1153.5V1160.6H1396.2" fill="none" stroke="#8a8a8a" stroke-width="1.1"/>
<path d="M1362.4,1163.4V1170.5H1369.2" fill="none" stroke="#8a8a8a" stroke-width="1.1"/>
<path d="M1371.6,1163.4V1170.5H1378.4" fill="none" stroke="#8a8a8a" stroke-width="1.1"/>
<path d="M1380.5,1163.4V1170.5H1387.3" fill="none" stroke="#8a8a8a" stroke-width="1.1"/>
<path d="M1389.4,1163.4V1170.5H1396.2" fill="none" stroke="#8a8a8a" stroke-width="1.1"/>
<line x1="1362.4" y1="1173" x2="1362.4" y2="1178.4" stroke="#8a8a8a" stroke-width="1.1"/>
<line x1="1371.6" y1="1173" x2="1371.6" y2="1178.4" stroke="#8a8a8a" stroke-width="1.1"/>
<line x1="1380.5" y1="1173" x2="1380.5" y2="1178.4" stroke="#8a8a8a" stroke-width="1.1"/>
<line x1="1389.4" y1="1173" x2="1389.4" y2="1178.4" stroke="#8a8a8a" stroke-width="1.1"/>
<line x1="1361.9" y1="1121.2" x2="1397.2" y2="1121.2" stroke="#888" stroke-width="1.3" stroke-dasharray="6,3"/>
<rect x="1492.3" y="1119.6" width="39.3" height="58.8" fill="#fff" stroke="#999" stroke-width="1.3"/>
<path d="M1494.8,1123.5V1130.6H1501.6" fill="none" stroke="#8a8a8a" stroke-width="1.1"/>
<path d="M1504,1123.5V1130.6H1510.8" fill="none" stroke="#8a8a8a" stroke-width="1.1"/>
<path d="M1512.9,1123.5V1130.6H1519.7" fill="none" stroke="#8a8a8a" stroke-width="1.1"/>
<path d="M1521.8,1123.5V1130.6H1528.6" fill="none" stroke="#8a8a8a" stroke-width="1.1"/>
<path d="M1494.8,1133.5V1140.6H1501.6" fill="none" stroke="#8a8a8a" stroke-width="1.1"/>
<path d="M1504,1133.5V1140.6H1510.8" fill="none" stroke="#8a8a8a" stroke-width="1.1"/>
<path d="M1512.9,1133.5V1140.6H1519.7" fill="none" stroke="#8a8a8a" stroke-width="1.1"/>
<path d="M1521.8,1133.5V1140.6H1528.6" fill="none" stroke="#8a8a8a" stroke-width="1.1"/>
<path d="M1494.8,1143.5V1150.6H1501.6" fill="none" stroke="#8a8a8a" stroke-width="1.1"/>
<path d="M1504,1143.5V1150.6H1510.8" fill="none" stroke="#8a8a8a" stroke-width="1.1"/>
<path d="M1512.9,1143.5V1150.6H1519.7" fill="none" stroke="#8a8a8a" stroke-width="1.1"/>
<path d="M1521.8,1143.5V1150.6H1528.6" fill="none" stroke="#8a8a8a" stroke-width="1.1"/>
<path d="M1494.8,1153.5V1160.6H1501.6" fill="none" stroke="#8a8a8a" stroke-width="1.1"/>
<path d="M1504,1153.5V1160.6H1510.8" fill="none" stroke="#8a8a8a" stroke-width="1.1"/>
<path d="M1512.9,1153.5V1160.6H1519.7" fill="none" stroke="#8a8a8a" stroke-width="1.1"/>
<path d="M1521.8,1153.5V1160.6H1528.6" fill="none" stroke="#8a8a8a" stroke-width="1.1"/>
<path d="M1494.8,1163.4V1170.5H1501.6" fill="none" stroke="#8a8a8a" stroke-width="1.1"/>
<path d="M1504,1163.4V1170.5H1510.8" fill="none" stroke="#8a8a8a" stroke-width="1.1"/>
<path d="M1512.9,1163.4V1170.5H1519.7" fill="none" stroke="#8a8a8a" stroke-width="1.1"/>
<path d="M1521.8,1163.4V1170.5H1528.6" fill="none" stroke="#8a8a8a" stroke-width="1.1"/>
<line x1="1494.8" y1="1173" x2="1494.8" y2="1178.4" stroke="#8a8a8a" stroke-width="1.1"/>
<line x1="1504" y1="1173" x2="1504" y2="1178.4" stroke="#8a8a8a" stroke-width="1.1"/>
<line x1="1512.9" y1="1173" x2="1512.9" y2="1178.4" stroke="#8a8a8a" stroke-width="1.1"/>
<line x1="1521.8" y1="1173" x2="1521.8" y2="1178.4" stroke="#8a8a8a" stroke-width="1.1"/>
<line x1="1494.3" y1="1121.2" x2="1529.6" y2="1121.2" stroke="#888" stroke-width="1.3" stroke-dasharray="6,3"/>
<rect x="1623.6" y="1119.6" width="39.3" height="58.8" fill="#fff" stroke="#999" stroke-width="1.3"/>
<path d="M1626.1,1123.5V1130.6H1632.9" fill="none" stroke="#8a8a8a" stroke-width="1.1"/>
<path d="M1635.3,1123.5V1130.6H1642.1" fill="none" stroke="#8a8a8a" stroke-width="1.1"/>
<path d="M1644.2,1123.5V1130.6H1651" fill="none" stroke="#8a8a8a" stroke-width="1.1"/>
<path d="M1653.1,1123.5V1130.6H1659.9" fill="none" stroke="#8a8a8a" stroke-width="1.1"/>
<path d="M1626.1,1133.5V1140.6H1632.9" fill="none" stroke="#8a8a8a" stroke-width="1.1"/>
<path d="M1635.3,1133.5V1140.6H1642.1" fill="none" stroke="#8a8a8a" stroke-width="1.1"/>
<path d="M1644.2,1133.5V1140.6H1651" fill="none" stroke="#8a8a8a" stroke-width="1.1"/>
<path d="M1653.1,1133.5V1140.6H1659.9" fill="none" stroke="#8a8a8a" stroke-width="1.1"/>
<path d="M1626.1,1143.5V1150.6H1632.9" fill="none" stroke="#8a8a8a" stroke-width="1.1"/>
<path d="M1635.3,1143.5V1150.6H1642.1" fill="none" stroke="#8a8a8a" stroke-width="1.1"/>
<path d="M1644.2,1143.5V1150.6H1651" fill="none" stroke="#8a8a8a" stroke-width="1.1"/>
<path d="M1653.1,1143.5V1150.6H1659.9" fill="none" stroke="#8a8a8a" stroke-width="1.1"/>
<path d="M1626.1,1153.5V1160.6H1632.9" fill="none" stroke="#8a8a8a" stroke-width="1.1"/>
<path d="M1635.3,1153.5V1160.6H1642.1" fill="none" stroke="#8a8a8a" stroke-width="1.1"/>
<path d="M1644.2,1153.5V1160.6H1651" fill="none" stroke="#8a8a8a" stroke-width="1.1"/>
<path d="M1653.1,1153.5V1160.6H1659.9" fill="none" stroke="#8a8a8a" stroke-width="1.1"/>
<path d="M1626.1,1163.4V1170.5H1632.9" fill="none" stroke="#8a8a8a" stroke-width="1.1"/>
<path d="M1635.3,1163.4V1170.5H1642.1" fill="none" stroke="#8a8a8a" stroke-width="1.1"/>
<path d="M1644.2,1163.4V1170.5H1651" fill="none" stroke="#8a8a8a" stroke-width="1.1"/>
<path d="M1653.1,1163.4V1170.5H1659.9" fill="none" stroke="#8a8a8a" stroke-width="1.1"/>
<line x1="1626.1" y1="1173" x2="1626.1" y2="1178.4" stroke="#8a8a8a" stroke-width="1.1"/>
<line x1="1635.3" y1="1173" x2="1635.3" y2="1178.4" stroke="#8a8a8a" stroke-width="1.1"/>
<line x1="1644.2" y1="1173" x2="1644.2" y2="1178.4" stroke="#8a8a8a" stroke-width="1.1"/>
<line x1="1653.1" y1="1173" x2="1653.1" y2="1178.4" stroke="#8a8a8a" stroke-width="1.1"/>
<line x1="1625.6" y1="1121.2" x2="1660.9" y2="1121.2" stroke="#888" stroke-width="1.3" stroke-dasharray="6,3"/>
<path d="M1608.9,1117.2 C1607,1120.6 1610.9,1132.4 1612,1141.2 C1613.2,1150 1615.9,1164.1 1615.8,1170.1 C1615.7,1176.2 1610.5,1176.4 1611.4,1177.7 C1612.4,1179 1619.5,1181.7 1621.5,1177.7 C1623.5,1173.7 1623.1,1163.2 1623.4,1153.8 C1623.7,1144.3 1625.8,1127.1 1623.4,1121 C1621,1114.9 1610.8,1113.9 1608.9,1117.2Z" fill="#fff" stroke="#8a8a8a" stroke-width="1"/>
<path d="M1678.2,1117.2 C1680.2,1120.6 1676.9,1132.4 1675.7,1141.2 C1674.4,1150 1670.6,1164.1 1670.6,1170.1 C1670.6,1176.2 1676.7,1176.4 1675.7,1177.7 C1674.6,1179 1666.3,1181.7 1664.3,1177.7 C1662.3,1173.7 1663.8,1163.2 1663.7,1153.8 C1663.6,1144.3 1661.3,1127.1 1663.7,1121 C1666.1,1114.9 1676.2,1113.9 1678.2,1117.2Z" fill="#fff" stroke="#8a8a8a" stroke-width="1"/>
<path d="M1629.1,1027.8 C1635.1,1025.7 1638.1,1026.3 1642.9,1026.5 C1647.7,1026.7 1651.7,1027.2 1658,1029.1 C1664.3,1030.9 1676.7,1035.1 1680.7,1037.9 C1684.7,1040.6 1682,1040.8 1682,1045.4 C1682,1050 1681.3,1058 1680.7,1065.6 C1680.1,1073.1 1677.8,1084.5 1678.2,1090.8 C1678.6,1097.1 1682.6,1099.4 1683.2,1103.4 C1683.9,1107.4 1684.1,1112.1 1682,1114.7 C1679.9,1117.3 1677.1,1118.2 1670.6,1119.1 C1664.1,1120.1 1652.1,1120.4 1642.9,1120.4 C1633.7,1120.4 1621.5,1120.1 1615.2,1119.1 C1608.9,1118.2 1606.9,1117.3 1605.1,1114.7 C1603.3,1112.1 1603.4,1107.4 1604.5,1103.4 C1605.5,1099.4 1611.1,1097.1 1611.4,1090.8 C1611.7,1084.5 1607.4,1072.9 1606.4,1065.6 C1605.3,1058.2 1605.1,1051.1 1605.1,1046.7 C1605.1,1042.3 1602.4,1042.3 1606.4,1039.1 C1610.4,1036 1623,1029.9 1629.1,1027.8Z" fill="#fff" stroke="#8a8a8a" stroke-width="1.1"/>
<path d="M1629.1,1027.8 C1629.7,1026.3 1630.5,1021.4 1632.8,1019 C1635.1,1016.6 1639.6,1013.5 1642.9,1013.3 C1646.3,1013.1 1650.6,1015.3 1653,1017.7 C1655.4,1020.1 1656.7,1026.1 1657.4,1027.8" fill="#fff" stroke="#8a8a8a" stroke-width="1.1"/>
<path d="M1631.6,1026.5 C1632.2,1025.9 1632.2,1023.6 1635.4,1023 C1638.5,1022.4 1647.1,1022.3 1650.5,1023 C1653.8,1023.7 1654.7,1026.5 1655.5,1027.2" fill="none" stroke="#8a8a8a" stroke-width="1"/>
<path d="M1620.2,1064.3 C1619.4,1066.6 1616.2,1071.3 1615.2,1078.2 C1614.1,1085.1 1614.1,1101.3 1613.9,1105.9" fill="none" stroke="#8a8a8a" stroke-width="0.9"/>
<path d="M1666.8,1064.3 C1667.7,1066.6 1670.8,1071.3 1671.9,1078.2 C1672.9,1085.1 1672.9,1101.3 1673.1,1105.9" fill="none" stroke="#8a8a8a" stroke-width="0.9"/>
<path d="M1606.4,1050.5 C1607.8,1053 1613.1,1059.7 1615.2,1065.6 C1617.3,1071.5 1617.9,1078 1619,1085.7 C1620,1093.5 1621.1,1107.8 1621.5,1112.2" fill="none" stroke="#8a8a8a" stroke-width="0.9"/>
<path d="M1680.7,1050.5 C1679.2,1053 1674,1059.7 1671.9,1065.6 C1669.8,1071.5 1669.2,1078 1668.1,1085.7 C1667.1,1093.5 1666,1107.8 1665.6,1112.2" fill="none" stroke="#8a8a8a" stroke-width="0.9"/>
<path d="M1620.2,1085.7 C1624,1085.2 1635.1,1082.6 1642.9,1082.6 C1650.7,1082.6 1662.9,1085.2 1666.8,1085.7" fill="none" stroke="#8a8a8a" stroke-width="0.9"/>
<path d="M1620.2,1094.6 C1619.8,1096 1617.6,1100.5 1617.7,1103.4 C1617.8,1106.2 1620.3,1110.2 1620.9,1111.6" fill="none" stroke="#8a8a8a" stroke-width="0.9"/>
<path d="M1666.8,1094.6 C1667.3,1096 1669.5,1100.5 1669.4,1103.4 C1669.3,1106.2 1666.7,1110.2 1666.2,1111.6" fill="none" stroke="#8a8a8a" stroke-width="0.9"/>
<ellipse cx="1379.6" cy="1007.6" rx="3.2" ry="1.7" fill="#fff" stroke="#909090" stroke-width="1.1"/>
<path d="M1379.4,1009.3 l-1,5.6 h2.4 l-1,-5.6z" fill="#aaa" stroke="#909090" stroke-width="0.8"/>
<path d="M1378.3,1023.5 q-2.8,-1.5 -3,-4.3 q0,-4 4.3,-4.6 q4.3,0.6 4.3,4.6 q-0.2,2.8 -3,4.3" fill="#fff" stroke="#999" stroke-width="1.1"/>
<path d="M1377.3,1026.6 v-7 q0,-1.9 2.4,-1.9 q2.4,0 2.4,1.9 v7z" fill="#fff" stroke="#909090" stroke-width="1.1"/>
<ellipse cx="1511.3" cy="1007.6" rx="3.2" ry="1.7" fill="#fff" stroke="#909090" stroke-width="1.1"/>
<path d="M1511.1,1009.3 l-1,5.6 h2.4 l-1,-5.6z" fill="#aaa" stroke="#909090" stroke-width="0.8"/>
<path d="M1510,1023.5 q-2.8,-1.5 -3,-4.3 q0,-4 4.3,-4.6 q4.3,0.6 4.3,4.6 q-0.2,2.8 -3,4.3" fill="#fff" stroke="#999" stroke-width="1.1"/>
<path d="M1509,1026.6 v-7 q0,-1.9 2.4,-1.9 q2.4,0 2.4,1.9 v7z" fill="#fff" stroke="#909090" stroke-width="1.1"/>
<line x1="1376" y1="971.2" x2="1647" y2="971.2" stroke="#999" stroke-width="1.2"/>
<line x1="1379.7" y1="966.5" x2="1379.7" y2="975.5" stroke="#999" stroke-width="1.2"/>
<line x1="1511.3" y1="966.5" x2="1511.3" y2="975.5" stroke="#999" stroke-width="1.2"/>
<line x1="1643.6" y1="966.5" x2="1643.6" y2="975.5" stroke="#999" stroke-width="1.2"/>
<rect x="1417" y="960" width="58" height="10" fill="#fff"/>
<rect x="1549" y="960" width="58" height="10" fill="#fff"/>
<text x="1419.5" y="969.8" font-size="10.6" fill="#787878" textLength="52" lengthAdjust="spacingAndGlyphs" stroke="#787878" stroke-width="0.2">80cm - 100cm</text>
<text x="1551.5" y="969.8" font-size="10.6" fill="#787878" textLength="52" lengthAdjust="spacingAndGlyphs" stroke="#787878" stroke-width="0.2">80cm - 100cm</text>
<line x1="1311.5" y1="984.6" x2="1342.3" y2="984.6" stroke="#999" stroke-width="1.2"/>
<line x1="1313.5" y1="981" x2="1313.5" y2="988.5" stroke="#999" stroke-width="1.2"/>
<line x1="1340.4" y1="981" x2="1340.4" y2="988.5" stroke="#999" stroke-width="1.2"/>
<text x="1317" y="982.9" font-size="10.8" fill="#787878" textLength="19.9" lengthAdjust="spacingAndGlyphs" stroke="#787878" stroke-width="0.2">20cm</text>
<line x1="1261.2" y1="987.2" x2="1261.2" y2="1182" stroke="#999" stroke-width="1.2"/>
<line x1="1257.5" y1="990.3" x2="1265" y2="990.3" stroke="#999" stroke-width="1.2"/>
<line x1="1257.5" y1="1019.5" x2="1265" y2="1019.5" stroke="#999" stroke-width="1.2"/>
<line x1="1257.5" y1="1178.4" x2="1265" y2="1178.4" stroke="#999" stroke-width="1.2"/>
<rect x="1250" y="1000" width="22" height="10" fill="#fff"/>
<text x="1251.1" y="1009" font-size="11.3" fill="#787878" textLength="19.9" lengthAdjust="spacingAndGlyphs" stroke="#787878" stroke-width="0.2">20cm</text>
<rect x="1233" y="1094" width="56" height="10" fill="#fff"/>
<text x="1234.7" y="1103.2" font-size="11.2" fill="#787878" textLength="52.6" lengthAdjust="spacingAndGlyphs" stroke="#787878" stroke-width="0.2">80cm - 109cm</text>
<line x1="1306.8" y1="987" x2="1306.8" y2="1030" stroke="#999" stroke-width="1.2"/>
<line x1="1303" y1="990.3" x2="1310.5" y2="990.3" stroke="#999" stroke-width="1.2"/>
<line x1="1303" y1="1026.9" x2="1310.5" y2="1026.9" stroke="#999" stroke-width="1.2"/>
<rect x="1291.5" y="1003.5" width="21" height="10" fill="#fff"/>
<text x="1292.4" y="1012.9" font-size="11.9" fill="#787878" textLength="19.9" lengthAdjust="spacingAndGlyphs" stroke="#787878" stroke-width="0.2">25cm</text>
<line x1="1250.2" y1="1116" x2="1250.2" y2="1182" stroke="#999" stroke-width="1.2"/>
<line x1="1246.5" y1="1118.4" x2="1254" y2="1118.4" stroke="#999" stroke-width="1.2"/>
<line x1="1246.5" y1="1178.4" x2="1254" y2="1178.4" stroke="#999" stroke-width="1.2"/>
<rect x="1236.5" y="1145" width="22" height="10" fill="#fff"/>
<text x="1237.4" y="1153.6" font-size="11" fill="#787878" textLength="20" lengthAdjust="spacingAndGlyphs" stroke="#787878" stroke-width="0.2">40cm</text>
<line x1="1307.1" y1="1142.7" x2="1307.1" y2="1182" stroke="#999" stroke-width="1.2"/>
<line x1="1303.9" y1="1148.1" x2="1310.7" y2="1148.1" stroke="#999" stroke-width="1.2"/>
<line x1="1303.9" y1="1178.4" x2="1310.7" y2="1178.4" stroke="#999" stroke-width="1.2"/>
<rect x="1292" y="1158" width="22" height="10" fill="#fff"/>
<text x="1293" y="1167.3" font-size="11.5" fill="#787878" textLength="20.5" lengthAdjust="spacingAndGlyphs" stroke="#787878" stroke-width="0.2">21cm</text>
<polyline points="1302.8,1127.8 1265.4,1147.3 1311,1147.3" fill="none" stroke="#999" stroke-width="1.2"/>
<polyline points="1300.5,1126.5 1303.5,1128.5 1301.5,1131" fill="none" stroke="#999" stroke-width="1"/>
<text x="1300.7" y="1140.5" font-size="10.2" fill="#787878" textLength="10.7" lengthAdjust="spacingAndGlyphs" stroke="#787878" stroke-width="0.2">30°</text>
<line x1="1356.9" y1="1112.2" x2="1402.6" y2="1112.2" stroke="#aaa" stroke-width="1.2"/>
<line x1="1359.9" y1="1108.9" x2="1359.9" y2="1115.7" stroke="#999" stroke-width="1.2"/>
<line x1="1399.4" y1="1108.9" x2="1399.4" y2="1115.7" stroke="#999" stroke-width="1.2"/>
<text x="1369.8" y="1110.7" font-size="10.9" fill="#787878" textLength="20" lengthAdjust="spacingAndGlyphs" stroke="#787878" stroke-width="0.2">30cm</text>
<line x1="1489.3" y1="1112.2" x2="1535" y2="1112.2" stroke="#aaa" stroke-width="1.2"/>
<line x1="1492.3" y1="1108.9" x2="1492.3" y2="1115.7" stroke="#999" stroke-width="1.2"/>
<line x1="1531.8" y1="1108.9" x2="1531.8" y2="1115.7" stroke="#999" stroke-width="1.2"/>
<text x="1502.2" y="1110.7" font-size="10.9" fill="#787878" textLength="20" lengthAdjust="spacingAndGlyphs" stroke="#787878" stroke-width="0.2">30cm</text>
<text x="1419" y="1163.8" font-size="14.1" fill="#777" textLength="26.4" lengthAdjust="spacingAndGlyphs" stroke="#777" stroke-width="0.2">±0.00</text>
<polygon points="1427.2,1167.3 1439,1167.3 1432.9,1178" fill="#8a8a8a"/>
<polyline points="1727.7,950 1683.6,950 1643.6,1007.5" fill="none" stroke="#999" stroke-width="1.1"/>
<circle cx="1643.6" cy="1007.5" r="2.2" fill="#888"/>
<text x="1729.9" y="953.8" font-size="10.5" fill="#787878" textLength="25.6" lengthAdjust="spacingAndGlyphs" stroke="#787878" stroke-width="0.2">Kran Air</text>
<polyline points="1727.7,976.8 1711.7,976.8 1699.7,995" fill="none" stroke="#999" stroke-width="1.1"/>
<circle cx="1699.7" cy="995" r="1.8" fill="#888"/>
<text x="1729.9" y="980.6" font-size="10.5" fill="#787878" textLength="54.3" lengthAdjust="spacingAndGlyphs" stroke="#787878" stroke-width="0.2">Keramik Dinding</text>
<polyline points="1727.7,1110.2 1704.3,1110.2 1691.4,1127.1" fill="none" stroke="#999" stroke-width="1.1"/>
<circle cx="1691.4" cy="1127.1" r="1.8" fill="#888"/>
<text x="1729.9" y="1114.2" font-size="10.5" fill="#787878" textLength="41.7" lengthAdjust="spacingAndGlyphs" stroke="#787878" stroke-width="0.2">Kisi-kisi Besi</text>
<polyline points="1727.7,1138.3 1669,1138.3 1655.6,1156.6" fill="none" stroke="#bbb" stroke-width="1.1"/>
<circle cx="1655.6" cy="1156.6" r="1.8" fill="#888"/>
<text x="1729.9" y="1141.7" font-size="10.5" fill="#787878" textLength="48.7" lengthAdjust="spacingAndGlyphs" stroke="#787878" stroke-width="0.2">Tempat Duduk</text>
<polyline points="1727.7,1159.3 1709.9,1159.3 1695.7,1176.4" fill="none" stroke="#999" stroke-width="1.1"/>
<circle cx="1695.7" cy="1176.4" r="1.8" fill="#888"/>
<text x="1729.9" y="1163.1" font-size="10.5" fill="#787878" textLength="78.7" lengthAdjust="spacingAndGlyphs" stroke="#787878" stroke-width="0.2">Lantai Bertekstur Kasar</text>
<rect x="1167.7" y="1365.6" width="1031.9" height="175.7" fill="none" stroke="#2a2a2a" stroke-width="1.3"/>
<line x1="1387.5" y1="1365.6" x2="1387.5" y2="1541.3" stroke="#2a2a2a" stroke-width="1.2"/>
<line x1="1387.5" y1="1389.5" x2="1783" y2="1389.5" stroke="#2a2a2a" stroke-width="1.2"/>
<line x1="1387.5" y1="1448.9" x2="1783" y2="1448.9" stroke="#2a2a2a" stroke-width="1.2"/>
<line x1="1695.4" y1="1448.9" x2="1695.4" y2="1541.3" stroke="#2a2a2a" stroke-width="1.2"/>
<rect x="1783.2" y="1365.6" width="3.6" height="175.7" fill="#aaaaaa" stroke="#6a6a6a" stroke-width="0.8"/>
<line x1="1786.8" y1="1402.4" x2="2048.3" y2="1402.4" stroke="#2a2a2a" stroke-width="1.2"/>
<line x1="1786.8" y1="1449.3" x2="2048.3" y2="1449.3" stroke="#2a2a2a" stroke-width="1.2"/>
<line x1="1997.7" y1="1402.4" x2="1997.7" y2="1541.3" stroke="#2a2a2a" stroke-width="1.2"/>
<line x1="2048.3" y1="1365.6" x2="2048.3" y2="1541.3" stroke="#2a2a2a" stroke-width="1.2"/>
<line x1="1997.7" y1="1493.2" x2="2199.6" y2="1493.2" stroke="#2a2a2a" stroke-width="1.2"/>
<text x="1449.3" y="1383.5" font-size="13.2" fill="#333" textLength="272.3" lengthAdjust="spacingAndGlyphs">TUGAS AKHIR - SEMESTER GENAP 2023/2024</text>
<text x="1390.3" y="1399.2" font-size="8" fill="#555" textLength="52.8" lengthAdjust="spacingAndGlyphs">JUDUL TUGAS</text>
<text x="1422.3" y="1420" font-size="15.6" fill="#333" textLength="359.1" lengthAdjust="spacingAndGlyphs">FASILITAS MASJID JAMI DI KABUPATEN LAMONGAN</text>
<text x="1390.3" y="1459" font-size="8" fill="#555" textLength="61" lengthAdjust="spacingAndGlyphs">JUDUL GAMBAR</text>
<text x="1698.8" y="1459" font-size="8" fill="#555" textLength="24.2" lengthAdjust="spacingAndGlyphs">SKALA</text>
<text x="1487.8" y="1499.5" font-size="15.3" fill="#333" textLength="109.8" lengthAdjust="spacingAndGlyphs">DETAIL TEMPAT</text>
<text x="1513.5" y="1517.5" font-size="15.4" fill="#333" textLength="57.6" lengthAdjust="spacingAndGlyphs">WUDHU</text>
<text x="1717.3" y="1507.5" font-size="15.3" fill="#333" textLength="30.8" lengthAdjust="spacingAndGlyphs">1 : 20</text>
<text x="1185.1" y="1507.5" font-size="13.5" fill="#333" textLength="185.3" lengthAdjust="spacingAndGlyphs">PROGRAM STUDI ARSITEKTUR</text>
<text x="1177.1" y="1518.1" font-size="9.9" fill="#333" textLength="201" lengthAdjust="spacingAndGlyphs">FAKULTAS TEKNIK SIPIL DAN PERENCANAAN</text>
<text x="1211.3" y="1528" font-size="9.7" fill="#333" textLength="132" lengthAdjust="spacingAndGlyphs">UNIVERSITAS KRISTEN PETRA</text>
<text x="1252.6" y="1537.4" font-size="9.3" fill="#333" textLength="49.4" lengthAdjust="spacingAndGlyphs">SURABAYA</text>
<text x="1789" y="1376.9" font-size="7.4" fill="#555" textLength="23.4" lengthAdjust="spacingAndGlyphs">NAMA</text>
<text x="1808.2" y="1391.3" font-size="14.1" fill="#333" textLength="108.8" lengthAdjust="spacingAndGlyphs">RIO SEPRIANTO</text>
<text x="1789" y="1411.8" font-size="7.7" fill="#555" textLength="16" lengthAdjust="spacingAndGlyphs">NRP</text>
<text x="1808.2" y="1431" font-size="14.1" fill="#333" textLength="65.7" lengthAdjust="spacingAndGlyphs">B12200119</text>
<text x="2000.7" y="1413.2" font-size="8.1" fill="#555" textLength="43.3" lengthAdjust="spacingAndGlyphs">KELOMPOK</text>
<text x="2008.1" y="1429.1" font-size="13.5" fill="#333" textLength="6.9" lengthAdjust="spacingAndGlyphs">6</text>
<text x="1789" y="1458.9" font-size="7.6" fill="#555" textLength="62.3" lengthAdjust="spacingAndGlyphs">MENTOR UTAMA</text>
<text x="1818.6" y="1475" font-size="12.5" fill="#333" textLength="141.5" lengthAdjust="spacingAndGlyphs">Dr. Ir. Joyce M. Laurens,</text>
<text x="1867.6" y="1491.8" font-size="12.1" fill="#333" textLength="43.9" lengthAdjust="spacingAndGlyphs">M.Arch.</text>
<text x="1789" y="1491.8" font-size="7.3" fill="#555" textLength="87.8" lengthAdjust="spacingAndGlyphs">MENTOR PENDAMPING</text>
<text x="1804.9" y="1503" font-size="9.9" fill="#333" textLength="166" lengthAdjust="spacingAndGlyphs">1.Dr. Agus Dwi Hariyanto, S.T., M.Sc.</text>
<text x="1802.9" y="1515.7" font-size="9.2" fill="#333" textLength="118" lengthAdjust="spacingAndGlyphs">2.Ir. M.I. Adicipto, M.Arch.</text>
<text x="1802.9" y="1527.9" font-size="9.9" fill="#333" textLength="170" lengthAdjust="spacingAndGlyphs">3.Stephanus Wirawan D., S.T., M.Ars.</text>
<text x="2000.7" y="1458.9" font-size="7.6" fill="#555" textLength="31.5" lengthAdjust="spacingAndGlyphs">LEMBAR</text>
<text x="2005.2" y="1476.9" font-size="13.2" fill="#333" textLength="13.3" lengthAdjust="spacingAndGlyphs">14</text>
<text x="2000.7" y="1503" font-size="7.6" fill="#555" textLength="31.5" lengthAdjust="spacingAndGlyphs">JUMLAH</text>
<text x="2051.3" y="1376.9" font-size="7.4" fill="#555" textLength="52.5" lengthAdjust="spacingAndGlyphs">PENGESAHAN</text>
<text x="2051.3" y="1505" font-size="7.7" fill="#555" textLength="35.6" lengthAdjust="spacingAndGlyphs">TANGGAL</text>
<text x="2072.8" y="1415.8" font-size="7.7" fill="#f0f0f0" textLength="52.9" lengthAdjust="spacingAndGlyphs">PENGESAHAN</text>
<circle cx="1276.9" cy="1437.7" r="42.2" fill="none" stroke="#1a1a1a" stroke-width="1.1"/>
<circle cx="1276.9" cy="1437.7" r="30.3" fill="none" stroke="#1a1a1a" stroke-width="0.9"/>
<path d="M1247.4,1447.5 A30.3,30.3 0 0 0 1306.2,1447.5 Q1293,1452 1282,1449 L1271.5,1449 Q1260,1452 1247.4,1447.5 Z" fill="#111" stroke="#1a1a1a" stroke-width="0.8"/>
<polygon points="1272.5,1447.7 1281,1447.7 1283.5,1457.8 1270,1457.8" fill="#fff"/>
<line x1="1267" y1="1456.5" x2="1273" y2="1450" stroke="#fff" stroke-width="1"/>
<line x1="1286.5" y1="1456.5" x2="1280.5" y2="1450" stroke="#fff" stroke-width="1"/>
<line x1="1256" y1="1452" x2="1256" y2="1465" stroke="#555" stroke-width="0.5"/>
<line x1="1262" y1="1452" x2="1262" y2="1465" stroke="#555" stroke-width="0.5"/>
<line x1="1291" y1="1452" x2="1291" y2="1465" stroke="#555" stroke-width="0.5"/>
<line x1="1297" y1="1452" x2="1297" y2="1465" stroke="#555" stroke-width="0.5"/>
<path d="M1274.3,1425 Q1270,1440 1248.5,1447" fill="none" stroke="#1a1a1a" stroke-width="0.9"/>
<path d="M1274.3,1427 Q1273,1443 1259,1449.5" fill="none" stroke="#1a1a1a" stroke-width="0.9"/>
<path d="M1279.7,1425 Q1284,1440 1305.5,1447" fill="none" stroke="#1a1a1a" stroke-width="0.9"/>
<path d="M1279.7,1427 Q1281,1443 1295,1449.5" fill="none" stroke="#1a1a1a" stroke-width="0.9"/>
<path d="M1274.3,1407.5 h5.4 v8.5 h8.4 v4.8 h-8.4 v27.6 h-5.4 v-27.6 h-9 v-4.8 h9z" fill="#fff" stroke="#1a1a1a" stroke-width="0.9"/>
<circle cx="1249.2" cy="1458.2" r="2.4" fill="#1a1a1a"/>
<circle cx="1304.3" cy="1458.2" r="2.4" fill="#1a1a1a"/>
<path id="lgt" d="M1245.4,1440.7 A31.6,31.6 0 0 1 1308.4,1435.1" fill="none"/>
<text font-size="10.2" fill="#1a1a1a"><textPath href="#lgt" textLength="99.7" lengthAdjust="spacingAndGlyphs">UNIVERSITAS KRISTEN</textPath></text>
<path id="lgb" d="M1258,1473.2 A40.2,40.2 0 0 0 1298.8,1471.4" fill="none"/>
<text font-size="12.5" fill="#1a1a1a"><textPath href="#lgb" textLength="42.8" lengthAdjust="spacingAndGlyphs">PETRA</textPath></text>
<text x="603.4" y="842.5" font-size="33.3" fill="#111" textLength="491.6" lengthAdjust="spacingAndGlyphs" stroke="#111" stroke-width="0.7">POTONGAN TEMPAT WUDHU DUDUK</text>
<line x1="601" y1="850.2" x2="1096.5" y2="850.2" stroke="#111" stroke-width="1.6"/>
<text x="444.6" y="1233.2" font-size="23.8" fill="#0a0a0a" font-weight="bold" textLength="378.9" lengthAdjust="spacingAndGlyphs">DENAH TEMPAT WUDHU 1 : 25</text>
<text x="1326.3" y="1233" font-size="23.5" fill="#0a0a0a" font-weight="bold" textLength="395.6" lengthAdjust="spacingAndGlyphs">TAMPAK TEMPAT WUDHU 1 : 25</text>
<text x="1410.4" y="850.5" font-size="22.5" fill="#111" font-weight="bold" textLength="85.6" lengthAdjust="spacingAndGlyphs">Detil Grill</text>
</svg>
</body></html>
